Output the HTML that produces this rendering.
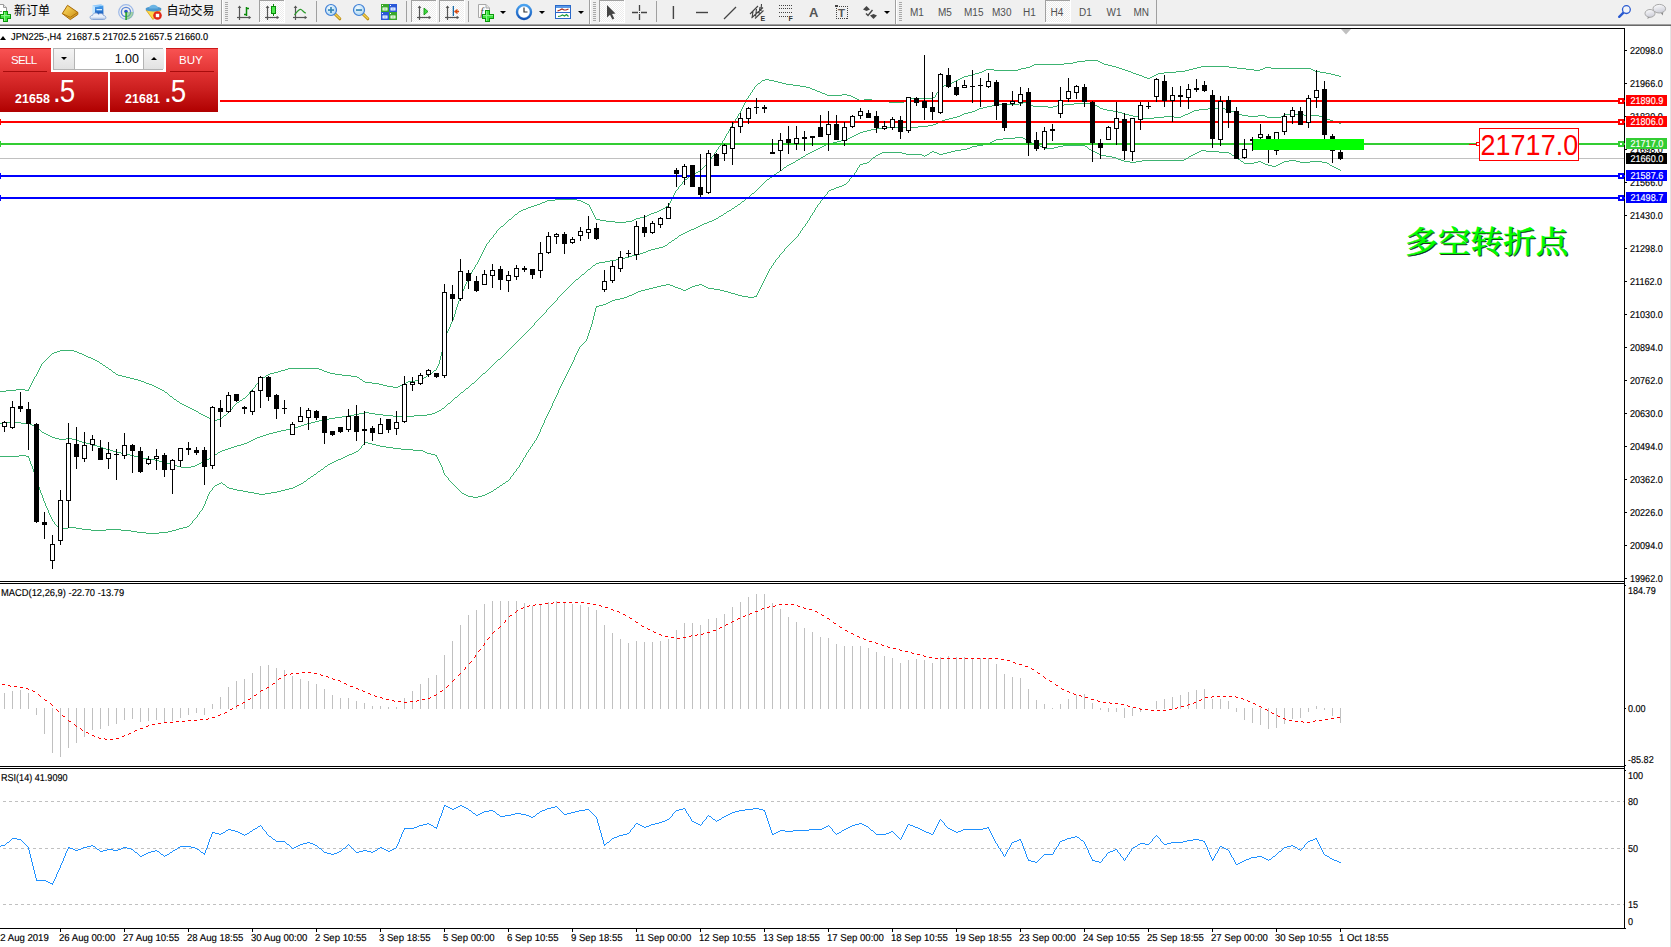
<!DOCTYPE html>
<html><head><meta charset="utf-8"><title>JPN225-,H4</title>
<style>
html,body{margin:0;padding:0;}
body{width:1671px;height:947px;overflow:hidden;background:#fff;position:relative;font-family:"Liberation Sans","Noto Sans CJK SC",sans-serif;}
#tb{position:absolute;left:0;top:0;width:1671px;height:24px;background:#f0f0f0;}
#tbl1{position:absolute;left:0;top:24px;width:1671px;height:1px;background:#a0a0a0;}
#tbl2{position:absolute;left:0;top:25px;width:1671px;height:1px;background:#696969;}
#oct{position:absolute;left:0;top:48px;width:218px;height:64px;}
#oct .pw{position:absolute;left:0;top:0;width:220px;height:64px;background:#fff;}
#oct .tab{position:absolute;top:0;height:24px;background:linear-gradient(#f85252,#e23434);border-top:1px solid #cc1818;box-sizing:border-box;}
#oct .tab span{position:absolute;top:4px;color:#fff;font-size:11.6px;line-height:14px;}
#oct .tab i{position:absolute;top:22px;width:44px;height:1px;background:#a80c0c;box-shadow:0 1px 0 #f06a6a;}
#oct .big{position:absolute;top:24px;height:40px;background:linear-gradient(#e03232,#cb1e1e 45%,#b00000);}
#oct .big b{position:absolute;top:20px;color:#fff;font-size:12.4px;line-height:14px;font-weight:700;letter-spacing:0.1px;}
#oct .big em{position:absolute;top:1px;color:#fff;font-size:31.5px;line-height:36px;font-style:normal;letter-spacing:-1.2px;transform:scaleX(0.88);transform-origin:0 0;}
#oct .spin{position:absolute;left:53px;top:0px;width:110px;height:22px;border:1px solid #b4b4b4;box-sizing:border-box;background:#fff;}
#oct .sb{position:absolute;top:0;height:20px;background:linear-gradient(#f4f4f4,#e2e2e2);border-right:1px solid #b4b4b4;box-sizing:border-box;}
#oct .sb:last-child{border-right:none;border-left:1px solid #b4b4b4;}
#oct .inp{position:absolute;left:21px;top:0;width:64px;height:19px;text-align:right;font-size:12.5px;line-height:21px;color:#000;}
#oct s.dn{position:absolute;left:7px;top:8px;width:0;height:0;border-left:3px solid transparent;border-right:3px solid transparent;border-top:3px solid #000;}
#oct s.up{position:absolute;left:7px;top:8px;width:0;height:0;border-left:3px solid transparent;border-right:3px solid transparent;border-bottom:3px solid #000;}

</style></head><body>
<svg id="chart" width="1671" height="947" viewBox="0 0 1671 947" style="position:absolute;left:0;top:0" shape-rendering="crispEdges">
<rect x="0" y="26" width="1671" height="921" fill="#fff"/>
<rect x="1670" y="26" width="1" height="921" fill="#e3e3e3"/>
<rect x="0" y="158" width="1624" height="1" fill="#c0c0c0"/>
<path d="M1085 60.5h13M1077 61.5h8M1098 61.5h2M1073 62.5h4M1100 62.5h2M1064 63.5h9M1102 63.5h2M1034 64.5h30M1104 64.5h4M1032 65.5h2M1108 65.5h4M1030 66.5h2M1112 66.5h4M1201 66.5h28M1026 67.5h4M1116 67.5h3M1197 67.5h4M1229 67.5h8M1265 67.5h6M1021 68.5h5M1119 68.5h3M1193 68.5h4M1237 68.5h9M1263 68.5h2M1271 68.5h40M986 69.5h8M1018 69.5h3M1122 69.5h3M1189 69.5h4M1246 69.5h8M1260 69.5h3M1311 69.5h2M984 70.5h2M994 70.5h24M1125 70.5h3M1185 70.5h4M1254 70.5h6M1313 70.5h2M982 71.5h2M1128 71.5h3M1176 71.5h9M1315 71.5h5M979 72.5h3M1131 72.5h2M1164 72.5h12M1320 72.5h6M975 73.5h4M1133 73.5h3M1158 73.5h6M1326 73.5h5M972 74.5h3M1136 74.5h3M1156 74.5h2M1331 74.5h4M968 75.5h4M1139 75.5h3M1154 75.5h2M1335 75.5h4M964 76.5h4M1142 76.5h2M1152 76.5h2M1339 76.5h2M962 77.5h2M1144 77.5h3M1150 77.5h2M960 78.5h2M1147 78.5h3M765 79.5h4M958 79.5h2M762 80.5h3M769 80.5h5M956 80.5h2M761 81.5h1M774 81.5h4M954 81.5h2M760 82.5h1M778 82.5h4M952 82.5h2M758 83.5h2M782 83.5h4M949 83.5h3M757 84.5h1M786 84.5h7M947 84.5h2M756 85.5h1M793 85.5h7M944 85.5h3M755 86.5h1M800 86.5h6M942 86.5h2M754 87.5h1M806 87.5h4M941 87.5h1M754 88.5h1M810 88.5h2M940 88.5h1M753 89.5h1M812 89.5h3M939 89.5h1M752 90.5h1M815 90.5h2M939 90.5h1M752 91.5h1M817 91.5h3M938 91.5h1M751 92.5h1M820 92.5h2M937 92.5h1M750 93.5h1M822 93.5h3M936 93.5h1M750 94.5h1M825 94.5h2M842 94.5h5M936 94.5h1M749 95.5h1M827 95.5h15M847 95.5h4M935 95.5h1M748 96.5h1M851 96.5h2M935 96.5h1M748 97.5h1M853 97.5h2M933 97.5h2M747 98.5h1M855 98.5h2M911 98.5h22M746 99.5h1M857 99.5h2M864 99.5h8M909 99.5h2M746 100.5h1M859 100.5h5M872 100.5h6M906 100.5h3M745 101.5h1M878 101.5h11M904 101.5h2M745 102.5h1M889 102.5h15M744 103.5h1M744 104.5h1M743 105.5h1M743 106.5h1M742 107.5h1M742 108.5h1M741 109.5h1M741 110.5h1M740 111.5h1M740 112.5h1M739 113.5h1M738 114.5h1M738 115.5h1M737 116.5h1M737 117.5h1M736 118.5h1M735 119.5h1M735 120.5h1M734 121.5h1M733 122.5h1M733 123.5h1M732 124.5h1M732 125.5h1M731 126.5h1M730 127.5h1M730 128.5h1M729 129.5h1M729 130.5h1M728 131.5h1M728 132.5h1M727 133.5h1M726 134.5h1M726 135.5h1M725 136.5h1M725 137.5h1M724 138.5h1M724 139.5h1M723 140.5h1M722 141.5h1M722 142.5h1M721 143.5h1M720 144.5h1M720 145.5h1M719 146.5h1M718 147.5h1M718 148.5h1M717 149.5h1M716 150.5h1M716 151.5h1M715 152.5h1M714 153.5h1M714 154.5h1M713 155.5h1M712 156.5h1M711 157.5h1M711 158.5h1M710 159.5h1M709 160.5h1M709 161.5h1M708 162.5h1M707 163.5h1M706 164.5h1M705 165.5h1M704 166.5h1M703 167.5h1M702 168.5h1M701 169.5h1M700 170.5h1M698 171.5h2M696 172.5h2M694 173.5h2M692 174.5h2M691 175.5h1M689 176.5h2M688 177.5h1M687 178.5h1M685 179.5h2M684 180.5h1M683 181.5h1M682 182.5h1M682 183.5h1M681 184.5h1M680 185.5h1M679 186.5h1M678 187.5h1M678 188.5h1M677 189.5h1M676 190.5h1M675 191.5h1M675 192.5h1M674 193.5h1M674 194.5h1M673 195.5h1M673 196.5h1M672 197.5h1M672 198.5h1M555 199.5h22M671 199.5h1M547 200.5h8M577 200.5h4M671 200.5h1M545 201.5h2M581 201.5h2M670 201.5h1M542 202.5h3M583 202.5h2M670 202.5h1M540 203.5h2M585 203.5h2M669 203.5h1M537 204.5h3M587 204.5h2M669 204.5h1M534 205.5h3M589 205.5h1M668 205.5h1M531 206.5h3M589 206.5h1M666 206.5h2M528 207.5h3M590 207.5h1M665 207.5h1M526 208.5h2M590 208.5h1M663 208.5h2M523 209.5h3M591 209.5h1M661 209.5h2M521 210.5h2M591 210.5h1M659 210.5h2M519 211.5h2M592 211.5h1M657 211.5h2M518 212.5h1M592 212.5h1M654 212.5h3M517 213.5h1M593 213.5h1M651 213.5h3M515 214.5h2M593 214.5h1M649 214.5h2M514 215.5h1M594 215.5h1M647 215.5h2M513 216.5h1M594 216.5h1M644 216.5h3M512 217.5h1M595 217.5h1M640 217.5h4M511 218.5h1M595 218.5h1M636 218.5h4M509 219.5h2M596 219.5h4M634 219.5h2M508 220.5h1M600 220.5h6M632 220.5h2M507 221.5h1M606 221.5h9M626 221.5h6M506 222.5h1M615 222.5h11M505 223.5h1M504 224.5h1M503 225.5h1M501 226.5h2M500 227.5h1M499 228.5h1M498 229.5h1M497 230.5h1M496 231.5h1M496 232.5h1M495 233.5h1M494 234.5h1M493 235.5h1M493 236.5h1M492 237.5h1M491 238.5h1M490 239.5h1M489 240.5h1M489 241.5h1M488 242.5h1M487 243.5h1M486 244.5h1M486 245.5h1M485 246.5h1M485 247.5h1M484 248.5h1M484 249.5h1M483 250.5h1M483 251.5h1M482 252.5h1M482 253.5h1M481 254.5h1M481 255.5h1M480 256.5h1M480 257.5h1M479 258.5h1M479 259.5h1M478 260.5h1M478 261.5h1M477 262.5h1M477 263.5h1M476 264.5h1M475 265.5h1M475 266.5h1M474 267.5h1M474 268.5h1M473 269.5h1M472 270.5h1M472 271.5h1M471 272.5h1M471 273.5h1M470 274.5h1M470 275.5h1M469 276.5h1M469 277.5h1M468 278.5h1M468 279.5h1M467 280.5h1M467 281.5h1M466 282.5h1M466 283.5h1M465 284.5h1M465 285.5h1M464 286.5h1M464 287.5h1M464 288.5h1M463 289.5h1M463 290.5h1M462 291.5h1M462 292.5h1M462 293.5h1M461 294.5h1M461 295.5h1M460 296.5h1M460 297.5h1M460 298.5h1M459 299.5h1M459 300.5h1M458 301.5h1M458 302.5h1M458 303.5h1M457 304.5h1M457 305.5h1M457 306.5h1M456 307.5h1M456 308.5h1M456 309.5h1M455 310.5h1M455 311.5h1M455 312.5h1M455 313.5h1M454 314.5h1M454 315.5h1M454 316.5h1M453 317.5h1M453 318.5h1M453 319.5h1M452 320.5h1M452 321.5h1M451 322.5h1M451 323.5h1M450 324.5h1M450 325.5h1M450 326.5h1M449 327.5h1M449 328.5h1M448 329.5h1M448 330.5h1M447 331.5h1M447 332.5h1M446 333.5h1M446 334.5h1M445 335.5h1M445 336.5h1M444 337.5h1M444 338.5h1M444 339.5h1M444 340.5h1M443 341.5h1M443 342.5h1M443 343.5h1M443 344.5h1M443 345.5h1M443 346.5h1M442 347.5h1M442 348.5h1M442 349.5h1M60 350.5h14M442 350.5h1M57 351.5h3M74 351.5h3M442 351.5h1M54 352.5h3M77 352.5h2M441 352.5h1M52 353.5h2M79 353.5h3M441 353.5h1M51 354.5h1M82 354.5h2M441 354.5h1M50 355.5h1M84 355.5h2M441 355.5h1M49 356.5h1M86 356.5h2M440 356.5h1M48 357.5h1M88 357.5h3M440 357.5h1M47 358.5h1M91 358.5h2M440 358.5h1M46 359.5h1M93 359.5h2M440 359.5h1M45 360.5h1M95 360.5h2M439 360.5h1M44 361.5h1M97 361.5h2M439 361.5h1M43 362.5h1M99 362.5h1M439 362.5h1M42 363.5h1M100 363.5h2M439 363.5h1M41 364.5h1M102 364.5h1M438 364.5h1M41 365.5h1M103 365.5h2M438 365.5h1M40 366.5h1M105 366.5h1M437 366.5h1M40 367.5h1M106 367.5h2M437 367.5h1M39 368.5h1M108 368.5h1M288 368.5h31M436 368.5h1M39 369.5h1M109 369.5h2M285 369.5h3M319 369.5h3M436 369.5h1M38 370.5h1M111 370.5h1M281 370.5h4M322 370.5h2M434 370.5h2M38 371.5h1M112 371.5h1M278 371.5h3M324 371.5h3M433 371.5h1M37 372.5h1M113 372.5h2M274 372.5h4M327 372.5h3M432 372.5h1M37 373.5h1M115 373.5h1M270 373.5h4M330 373.5h5M430 373.5h2M36 374.5h1M116 374.5h2M268 374.5h2M335 374.5h7M429 374.5h1M36 375.5h1M118 375.5h4M266 375.5h2M342 375.5h9M427 375.5h2M35 376.5h1M122 376.5h4M265 376.5h1M351 376.5h6M426 376.5h1M34 377.5h1M126 377.5h4M263 377.5h2M357 377.5h2M424 377.5h2M34 378.5h1M130 378.5h4M261 378.5h2M359 378.5h1M422 378.5h2M33 379.5h1M134 379.5h4M260 379.5h1M360 379.5h2M420 379.5h2M33 380.5h1M138 380.5h3M259 380.5h1M362 380.5h1M415 380.5h5M32 381.5h1M141 381.5h3M258 381.5h1M363 381.5h2M408 381.5h7M32 382.5h1M144 382.5h2M258 382.5h1M365 382.5h7M406 382.5h2M31 383.5h1M146 383.5h3M257 383.5h1M372 383.5h7M404 383.5h2M31 384.5h1M149 384.5h3M256 384.5h1M379 384.5h4M402 384.5h2M30 385.5h1M152 385.5h2M255 385.5h1M383 385.5h4M400 385.5h2M30 386.5h1M154 386.5h2M255 386.5h1M387 386.5h6M398 386.5h2M29 387.5h1M156 387.5h2M254 387.5h1M393 387.5h5M29 388.5h1M158 388.5h2M253 388.5h1M16 389.5h9M28 389.5h1M160 389.5h2M252 389.5h1M6 390.5h10M25 390.5h4M162 390.5h2M251 390.5h1M0 391.5h6M164 391.5h1M250 391.5h1M165 392.5h2M249 392.5h1M167 393.5h1M249 393.5h1M168 394.5h1M248 394.5h1M169 395.5h1M247 395.5h1M170 396.5h2M246 396.5h1M172 397.5h1M245 397.5h1M173 398.5h1M243 398.5h2M174 399.5h2M242 399.5h1M176 400.5h1M240 400.5h2M177 401.5h2M239 401.5h1M179 402.5h1M237 402.5h2M180 403.5h2M236 403.5h1M182 404.5h2M235 404.5h1M184 405.5h2M234 405.5h1M186 406.5h2M233 406.5h1M188 407.5h2M232 407.5h1M190 408.5h2M232 408.5h1M192 409.5h2M231 409.5h1M194 410.5h2M230 410.5h1M196 411.5h2M229 411.5h1M198 412.5h1M228 412.5h1M199 413.5h2M227 413.5h1M201 414.5h2M226 414.5h1M203 415.5h2M224 415.5h2M205 416.5h2M223 416.5h1M207 417.5h2M222 417.5h1M209 418.5h2M220 418.5h2M211 419.5h3M217 419.5h3M214 420.5h3" fill="none" stroke="#3cb371" stroke-width="1"/>
<path d="M1023 102.5h4M1019 103.5h4M1027 103.5h2M1074 103.5h16M998 104.5h21M1029 104.5h2M1064 104.5h10M1090 104.5h4M992 105.5h6M1031 105.5h2M1057 105.5h7M1094 105.5h3M987 106.5h5M1033 106.5h15M1053 106.5h4M1097 106.5h2M983 107.5h4M1048 107.5h5M1099 107.5h1M979 108.5h4M1100 108.5h3M1208 108.5h17M977 109.5h2M1103 109.5h4M1199 109.5h9M1225 109.5h3M975 110.5h2M1107 110.5h6M1194 110.5h5M1228 110.5h3M972 111.5h3M1113 111.5h5M1192 111.5h2M1231 111.5h3M968 112.5h4M1118 112.5h4M1190 112.5h2M1234 112.5h3M964 113.5h4M1122 113.5h3M1188 113.5h2M1237 113.5h2M962 114.5h2M1125 114.5h4M1185 114.5h3M1239 114.5h3M1285 114.5h19M960 115.5h2M1129 115.5h4M1183 115.5h2M1242 115.5h6M1258 115.5h7M1283 115.5h2M1304 115.5h15M957 116.5h3M1133 116.5h5M1164 116.5h10M1181 116.5h2M1248 116.5h10M1265 116.5h2M1281 116.5h2M1319 116.5h4M953 117.5h4M1138 117.5h4M1154 117.5h10M1174 117.5h7M1267 117.5h14M1323 117.5h2M949 118.5h4M1142 118.5h12M1325 118.5h2M945 119.5h4M1327 119.5h3M942 120.5h3M1330 120.5h3M940 121.5h2M1333 121.5h3M938 122.5h2M1336 122.5h3M936 123.5h2M1339 123.5h2M933 124.5h3M928 125.5h5M918 126.5h10M887 127.5h31M877 128.5h10M871 129.5h6M867 130.5h4M863 131.5h4M860 132.5h3M858 133.5h2M856 134.5h2M854 135.5h2M852 136.5h2M850 137.5h2M848 138.5h2M845 139.5h3M841 140.5h4M837 141.5h4M833 142.5h4M830 143.5h3M826 144.5h4M824 145.5h2M822 146.5h2M820 147.5h2M818 148.5h2M816 149.5h2M814 150.5h2M812 151.5h2M810 152.5h2M808 153.5h2M806 154.5h2M805 155.5h1M803 156.5h2M801 157.5h2M800 158.5h1M798 159.5h2M796 160.5h2M795 161.5h1M793 162.5h2M791 163.5h2M789 164.5h2M787 165.5h2M786 166.5h1M784 167.5h2M783 168.5h1M782 169.5h1M780 170.5h2M779 171.5h1M777 172.5h2M776 173.5h1M774 174.5h2M773 175.5h1M772 176.5h1M770 177.5h2M769 178.5h1M767 179.5h2M766 180.5h1M765 181.5h1M764 182.5h1M763 183.5h1M762 184.5h1M761 185.5h1M760 186.5h1M759 187.5h1M758 188.5h1M757 189.5h1M756 190.5h1M755 191.5h1M754 192.5h1M752 193.5h2M751 194.5h1M750 195.5h1M749 196.5h1M748 197.5h1M746 198.5h2M745 199.5h1M744 200.5h1M742 201.5h2M741 202.5h1M740 203.5h1M738 204.5h2M737 205.5h1M735 206.5h2M734 207.5h1M732 208.5h2M731 209.5h1M729 210.5h2M727 211.5h2M726 212.5h1M724 213.5h2M723 214.5h1M721 215.5h2M719 216.5h2M718 217.5h1M716 218.5h2M714 219.5h2M712 220.5h2M709 221.5h3M707 222.5h2M704 223.5h3M702 224.5h2M700 225.5h2M698 226.5h2M696 227.5h2M694 228.5h2M691 229.5h3M689 230.5h2M687 231.5h2M685 232.5h2M683 233.5h2M681 234.5h2M679 235.5h2M678 236.5h1M677 237.5h1M675 238.5h2M674 239.5h1M672 240.5h2M671 241.5h1M669 242.5h2M668 243.5h1M667 244.5h1M665 245.5h2M663 246.5h2M659 247.5h4M655 248.5h4M651 249.5h4M648 250.5h3M646 251.5h2M643 252.5h3M640 253.5h3M636 254.5h4M632 255.5h4M629 256.5h3M625 257.5h4M621 258.5h4M616 259.5h5M610 260.5h6M605 261.5h5M599 262.5h6M596 263.5h3M595 264.5h1M593 265.5h2M592 266.5h1M591 267.5h1M590 268.5h1M588 269.5h2M587 270.5h1M586 271.5h1M585 272.5h1M584 273.5h1M582 274.5h2M581 275.5h1M580 276.5h1M579 277.5h1M578 278.5h1M576 279.5h2M575 280.5h1M574 281.5h1M573 282.5h1M572 283.5h1M571 284.5h1M570 285.5h1M569 286.5h1M568 287.5h1M567 288.5h1M566 289.5h1M565 290.5h1M564 291.5h1M563 292.5h1M562 293.5h1M561 294.5h1M560 295.5h1M559 296.5h1M558 297.5h1M557 298.5h1M557 299.5h1M556 300.5h1M555 301.5h1M554 302.5h1M553 303.5h1M552 304.5h1M551 305.5h1M550 306.5h1M549 307.5h1M548 308.5h1M547 309.5h1M546 310.5h1M546 311.5h1M545 312.5h1M544 313.5h1M543 314.5h1M542 315.5h1M541 316.5h1M540 317.5h1M539 318.5h1M538 319.5h1M537 320.5h1M536 321.5h1M535 322.5h1M534 323.5h1M534 324.5h1M533 325.5h1M532 326.5h1M531 327.5h1M530 328.5h1M529 329.5h1M528 330.5h1M527 331.5h1M526 332.5h1M525 333.5h1M524 334.5h1M523 335.5h1M522 336.5h1M521 337.5h1M520 338.5h1M519 339.5h1M518 340.5h1M517 341.5h1M516 342.5h1M515 343.5h1M514 344.5h1M513 345.5h1M512 346.5h1M511 347.5h1M510 348.5h1M509 349.5h1M508 350.5h1M507 351.5h1M506 352.5h1M505 353.5h1M504 354.5h1M503 355.5h1M502 356.5h1M501 357.5h1M500 358.5h1M498 359.5h2M497 360.5h1M496 361.5h1M495 362.5h1M494 363.5h1M493 364.5h1M492 365.5h1M491 366.5h1M490 367.5h1M489 368.5h1M488 369.5h1M487 370.5h1M486 371.5h1M485 372.5h1M483 373.5h2M482 374.5h1M481 375.5h1M480 376.5h1M479 377.5h1M478 378.5h1M477 379.5h1M476 380.5h1M475 381.5h1M474 382.5h1M472 383.5h2M471 384.5h1M470 385.5h1M469 386.5h1M468 387.5h1M466 388.5h2M465 389.5h1M464 390.5h1M463 391.5h1M461 392.5h2M460 393.5h1M459 394.5h1M458 395.5h1M457 396.5h1M455 397.5h2M454 398.5h1M453 399.5h1M452 400.5h1M451 401.5h1M450 402.5h1M448 403.5h2M447 404.5h1M446 405.5h1M445 406.5h1M444 407.5h1M442 408.5h2M441 409.5h1M439 410.5h2M437 411.5h2M364 412.5h5M435 412.5h2M359 413.5h5M369 413.5h6M432 413.5h3M354 414.5h5M375 414.5h8M427 414.5h5M348 415.5h6M383 415.5h10M414 415.5h13M342 416.5h6M393 416.5h21M335 417.5h7M329 418.5h6M323 419.5h6M319 420.5h4M315 421.5h4M7 422.5h14M311 422.5h4M0 423.5h7M21 423.5h9M307 423.5h4M30 424.5h2M304 424.5h3M32 425.5h2M301 425.5h3M34 426.5h2M298 426.5h3M36 427.5h1M294 427.5h4M37 428.5h1M290 428.5h4M38 429.5h2M286 429.5h4M40 430.5h1M281 430.5h5M41 431.5h1M277 431.5h4M42 432.5h2M273 432.5h4M44 433.5h2M269 433.5h4M46 434.5h2M266 434.5h3M48 435.5h2M263 435.5h3M50 436.5h2M260 436.5h3M52 437.5h3M257 437.5h3M55 438.5h4M66 438.5h6M255 438.5h2M59 439.5h7M72 439.5h4M253 439.5h2M76 440.5h3M251 440.5h2M79 441.5h3M249 441.5h2M82 442.5h4M247 442.5h2M86 443.5h4M244 443.5h3M90 444.5h3M241 444.5h3M93 445.5h4M237 445.5h4M97 446.5h3M234 446.5h3M100 447.5h3M231 447.5h3M103 448.5h3M228 448.5h3M106 449.5h4M225 449.5h3M110 450.5h3M222 450.5h3M113 451.5h4M220 451.5h2M117 452.5h4M218 452.5h2M121 453.5h4M217 453.5h1M125 454.5h5M215 454.5h2M130 455.5h4M213 455.5h2M134 456.5h4M212 456.5h1M138 457.5h5M210 457.5h2M143 458.5h6M209 458.5h1M149 459.5h6M207 459.5h2M155 460.5h4M205 460.5h2M159 461.5h4M203 461.5h2M163 462.5h4M201 462.5h2M167 463.5h4M199 463.5h2M171 464.5h3M197 464.5h2M174 465.5h3M195 465.5h2M177 466.5h4M191 466.5h4M181 467.5h10" fill="none" stroke="#3cb371" stroke-width="1"/>
<path d="M1015 137.5h8M1003 138.5h12M1023 138.5h2M996 139.5h7M1025 139.5h2M994 140.5h2M1027 140.5h2M992 141.5h2M1029 141.5h2M990 142.5h2M1031 142.5h1M987 143.5h3M1032 143.5h2M983 144.5h4M1034 144.5h2M977 145.5h6M1036 145.5h4M1063 145.5h22M972 146.5h5M1040 146.5h3M1058 146.5h5M1085 146.5h2M970 147.5h2M1043 147.5h2M1054 147.5h4M1087 147.5h1M967 148.5h3M1045 148.5h9M1088 148.5h1M961 149.5h6M1089 149.5h2M955 150.5h6M1091 150.5h2M1201 150.5h5M932 151.5h2M951 151.5h4M1093 151.5h2M1199 151.5h2M1206 151.5h13M882 152.5h20M930 152.5h2M934 152.5h3M947 152.5h4M1095 152.5h2M1197 152.5h2M1219 152.5h10M880 153.5h2M902 153.5h4M929 153.5h1M937 153.5h2M943 153.5h4M1097 153.5h2M1195 153.5h2M1229 153.5h2M878 154.5h2M906 154.5h16M927 154.5h2M939 154.5h4M1099 154.5h2M1193 154.5h2M1231 154.5h1M876 155.5h2M922 155.5h2M925 155.5h2M1101 155.5h5M1191 155.5h2M1232 155.5h2M875 156.5h1M924 156.5h1M1106 156.5h6M1189 156.5h2M1234 156.5h1M873 157.5h2M1112 157.5h4M1188 157.5h1M1235 157.5h2M872 158.5h1M1116 158.5h2M1186 158.5h2M1237 158.5h1M871 159.5h1M1118 159.5h3M1184 159.5h2M1238 159.5h2M870 160.5h1M1121 160.5h3M1142 160.5h42M1240 160.5h1M1289 160.5h7M869 161.5h1M1124 161.5h6M1136 161.5h6M1241 161.5h2M1258 161.5h3M1284 161.5h5M1296 161.5h4M1310 161.5h12M867 162.5h2M1130 162.5h6M1243 162.5h1M1254 162.5h4M1261 162.5h2M1282 162.5h2M1300 162.5h10M1322 162.5h5M863 163.5h4M1244 163.5h10M1263 163.5h2M1280 163.5h2M1327 163.5h2M860 164.5h3M1265 164.5h3M1278 164.5h2M1329 164.5h1M859 165.5h1M1268 165.5h4M1276 165.5h2M1330 165.5h2M859 166.5h1M1272 166.5h4M1332 166.5h2M858 167.5h1M1334 167.5h2M857 168.5h1M1336 168.5h2M857 169.5h1M1338 169.5h2M856 170.5h1M1340 170.5h1M856 171.5h1M855 172.5h1M854 173.5h1M854 174.5h1M853 175.5h1M852 176.5h1M851 177.5h1M850 178.5h1M849 179.5h1M849 180.5h1M848 181.5h1M847 182.5h1M846 183.5h1M844 184.5h2M842 185.5h2M839 186.5h3M836 187.5h3M834 188.5h2M831 189.5h3M829 190.5h2M828 191.5h1M827 192.5h1M827 193.5h1M826 194.5h1M825 195.5h1M824 196.5h1M823 197.5h1M823 198.5h1M822 199.5h1M821 200.5h1M820 201.5h1M820 202.5h1M819 203.5h1M818 204.5h1M817 205.5h1M817 206.5h1M816 207.5h1M815 208.5h1M815 209.5h1M814 210.5h1M814 211.5h1M813 212.5h1M812 213.5h1M812 214.5h1M811 215.5h1M810 216.5h1M810 217.5h1M809 218.5h1M809 219.5h1M808 220.5h1M807 221.5h1M807 222.5h1M806 223.5h1M805 224.5h1M805 225.5h1M804 226.5h1M803 227.5h1M802 228.5h1M802 229.5h1M801 230.5h1M800 231.5h1M800 232.5h1M799 233.5h1M798 234.5h1M798 235.5h1M797 236.5h1M796 237.5h1M795 238.5h1M794 239.5h1M793 240.5h1M792 241.5h1M791 242.5h1M790 243.5h1M789 244.5h1M788 245.5h1M787 246.5h1M786 247.5h1M785 248.5h1M784 249.5h1M784 250.5h1M783 251.5h1M782 252.5h1M781 253.5h1M780 254.5h1M779 255.5h1M779 256.5h1M778 257.5h1M777 258.5h1M776 259.5h1M775 260.5h1M775 261.5h1M774 262.5h1M773 263.5h1M773 264.5h1M772 265.5h1M771 266.5h1M771 267.5h1M770 268.5h1M769 269.5h1M769 270.5h1M768 271.5h1M768 272.5h1M767 273.5h1M767 274.5h1M766 275.5h1M766 276.5h1M765 277.5h1M765 278.5h1M764 279.5h1M764 280.5h1M763 281.5h1M763 282.5h1M762 283.5h1M666 284.5h4M699 284.5h3M762 284.5h1M661 285.5h5M670 285.5h3M695 285.5h4M702 285.5h2M761 285.5h1M657 286.5h4M673 286.5h2M692 286.5h3M704 286.5h2M761 286.5h1M653 287.5h4M675 287.5h3M690 287.5h2M706 287.5h2M760 287.5h1M649 288.5h4M678 288.5h3M688 288.5h2M708 288.5h6M760 288.5h1M645 289.5h4M681 289.5h2M686 289.5h2M714 289.5h6M759 289.5h1M641 290.5h4M683 290.5h3M720 290.5h4M759 290.5h1M638 291.5h3M724 291.5h4M758 291.5h1M636 292.5h2M728 292.5h3M758 292.5h1M634 293.5h2M731 293.5h4M757 293.5h1M632 294.5h2M735 294.5h3M757 294.5h1M629 295.5h3M738 295.5h4M756 295.5h1M627 296.5h2M742 296.5h6M754 296.5h3M624 297.5h3M748 297.5h6M620 298.5h4M615 299.5h5M612 300.5h3M610 301.5h2M608 302.5h2M606 303.5h2M603 304.5h3M599 305.5h4M596 306.5h3M596 307.5h1M595 308.5h1M595 309.5h1M595 310.5h1M595 311.5h1M594 312.5h1M594 313.5h1M594 314.5h1M594 315.5h1M593 316.5h1M593 317.5h1M593 318.5h1M593 319.5h1M592 320.5h1M592 321.5h1M592 322.5h1M592 323.5h1M591 324.5h1M591 325.5h1M591 326.5h1M590 327.5h1M590 328.5h1M590 329.5h1M589 330.5h1M589 331.5h1M589 332.5h1M588 333.5h1M588 334.5h1M588 335.5h1M587 336.5h1M587 337.5h1M587 338.5h1M586 339.5h1M586 340.5h1M585 341.5h1M584 342.5h1M583 343.5h1M582 344.5h1M581 345.5h1M580 346.5h1M579 347.5h1M579 348.5h1M578 349.5h1M578 350.5h1M577 351.5h1M577 352.5h1M576 353.5h1M576 354.5h1M575 355.5h1M575 356.5h1M574 357.5h1M574 358.5h1M574 359.5h1M573 360.5h1M573 361.5h1M572 362.5h1M572 363.5h1M571 364.5h1M571 365.5h1M570 366.5h1M570 367.5h1M569 368.5h1M569 369.5h1M568 370.5h1M568 371.5h1M567 372.5h1M567 373.5h1M566 374.5h1M566 375.5h1M565 376.5h1M565 377.5h1M564 378.5h1M564 379.5h1M563 380.5h1M563 381.5h1M562 382.5h1M562 383.5h1M561 384.5h1M561 385.5h1M560 386.5h1M560 387.5h1M559 388.5h1M559 389.5h1M558 390.5h1M558 391.5h1M558 392.5h1M557 393.5h1M557 394.5h1M556 395.5h1M556 396.5h1M555 397.5h1M555 398.5h1M554 399.5h1M554 400.5h1M553 401.5h1M553 402.5h1M552 403.5h1M552 404.5h1M552 405.5h1M551 406.5h1M551 407.5h1M550 408.5h1M550 409.5h1M549 410.5h1M549 411.5h1M548 412.5h1M548 413.5h1M547 414.5h1M547 415.5h1M546 416.5h1M546 417.5h1M545 418.5h1M545 419.5h1M544 420.5h1M544 421.5h1M544 422.5h1M543 423.5h1M543 424.5h1M542 425.5h1M542 426.5h1M541 427.5h1M541 428.5h1M540 429.5h1M540 430.5h1M540 431.5h1M539 432.5h1M539 433.5h1M538 434.5h1M538 435.5h1M537 436.5h1M537 437.5h1M536 438.5h1M536 439.5h1M535 440.5h1M534 441.5h1M365 442.5h3M534 442.5h1M364 443.5h1M368 443.5h4M533 443.5h1M363 444.5h1M372 444.5h4M532 444.5h1M362 445.5h1M376 445.5h4M532 445.5h1M361 446.5h1M380 446.5h6M531 446.5h1M361 447.5h1M386 447.5h7M530 447.5h1M360 448.5h1M393 448.5h8M530 448.5h1M359 449.5h1M401 449.5h12M529 449.5h1M358 450.5h1M413 450.5h10M528 450.5h1M356 451.5h2M423 451.5h2M528 451.5h1M354 452.5h2M425 452.5h2M527 452.5h1M352 453.5h2M427 453.5h4M526 453.5h1M349 454.5h3M431 454.5h4M526 454.5h1M19 455.5h7M347 455.5h2M435 455.5h2M525 455.5h1M0 456.5h19M26 456.5h3M345 456.5h2M436 456.5h1M525 456.5h1M28 457.5h1M343 457.5h2M437 457.5h1M524 457.5h1M29 458.5h1M341 458.5h2M437 458.5h1M523 458.5h1M29 459.5h1M338 459.5h3M438 459.5h1M523 459.5h1M29 460.5h1M336 460.5h2M438 460.5h1M522 460.5h1M30 461.5h1M334 461.5h2M439 461.5h1M522 461.5h1M30 462.5h1M332 462.5h2M439 462.5h1M521 462.5h1M30 463.5h1M330 463.5h2M440 463.5h1M520 463.5h1M31 464.5h1M328 464.5h2M440 464.5h1M520 464.5h1M31 465.5h1M327 465.5h1M441 465.5h1M519 465.5h1M32 466.5h1M325 466.5h2M441 466.5h1M519 466.5h1M32 467.5h1M324 467.5h1M442 467.5h1M518 467.5h1M32 468.5h1M323 468.5h1M442 468.5h1M517 468.5h1M33 469.5h1M321 469.5h2M442 469.5h1M516 469.5h1M33 470.5h1M320 470.5h1M443 470.5h1M516 470.5h1M33 471.5h1M318 471.5h2M443 471.5h1M515 471.5h1M34 472.5h1M317 472.5h1M443 472.5h1M514 472.5h1M34 473.5h1M316 473.5h1M444 473.5h1M513 473.5h1M34 474.5h1M314 474.5h2M444 474.5h1M513 474.5h1M35 475.5h1M313 475.5h1M445 475.5h1M512 475.5h1M35 476.5h1M311 476.5h2M446 476.5h1M511 476.5h1M35 477.5h1M310 477.5h1M447 477.5h1M510 477.5h1M36 478.5h1M308 478.5h2M448 478.5h1M510 478.5h1M36 479.5h1M307 479.5h1M448 479.5h1M509 479.5h1M36 480.5h1M306 480.5h1M449 480.5h1M508 480.5h1M37 481.5h1M304 481.5h2M450 481.5h1M506 481.5h2M37 482.5h1M221 482.5h1M303 482.5h1M451 482.5h1M505 482.5h1M37 483.5h1M219 483.5h2M222 483.5h1M301 483.5h2M452 483.5h1M503 483.5h2M38 484.5h1M217 484.5h2M223 484.5h2M299 484.5h2M453 484.5h1M502 484.5h1M38 485.5h1M215 485.5h2M225 485.5h1M297 485.5h2M454 485.5h1M500 485.5h2M38 486.5h1M214 486.5h1M226 486.5h1M295 486.5h2M455 486.5h1M499 486.5h1M39 487.5h1M213 487.5h1M227 487.5h2M293 487.5h2M456 487.5h1M497 487.5h2M39 488.5h1M212 488.5h1M229 488.5h4M289 488.5h4M457 488.5h1M496 488.5h1M39 489.5h1M212 489.5h1M233 489.5h4M285 489.5h4M458 489.5h1M494 489.5h2M40 490.5h1M211 490.5h1M237 490.5h6M281 490.5h4M459 490.5h1M493 490.5h1M40 491.5h1M210 491.5h1M243 491.5h5M277 491.5h4M460 491.5h1M491 491.5h2M40 492.5h1M209 492.5h1M248 492.5h6M271 492.5h6M461 492.5h1M489 492.5h2M41 493.5h1M209 493.5h1M254 493.5h5M265 493.5h6M462 493.5h2M487 493.5h2M41 494.5h1M208 494.5h1M259 494.5h6M464 494.5h2M485 494.5h2M42 495.5h1M208 495.5h1M466 495.5h2M482 495.5h3M42 496.5h1M207 496.5h1M468 496.5h5M478 496.5h4M42 497.5h1M207 497.5h1M473 497.5h5M43 498.5h1M207 498.5h1M43 499.5h1M206 499.5h1M43 500.5h1M206 500.5h1M44 501.5h1M205 501.5h1M44 502.5h1M205 502.5h1M45 503.5h1M205 503.5h1M45 504.5h1M204 504.5h1M45 505.5h1M204 505.5h1M46 506.5h1M203 506.5h1M46 507.5h1M203 507.5h1M47 508.5h1M202 508.5h1M47 509.5h1M202 509.5h1M48 510.5h1M201 510.5h1M48 511.5h1M200 511.5h1M48 512.5h1M199 512.5h1M49 513.5h1M199 513.5h1M49 514.5h1M198 514.5h1M50 515.5h1M197 515.5h1M50 516.5h1M197 516.5h1M51 517.5h1M196 517.5h1M51 518.5h1M195 518.5h1M52 519.5h1M194 519.5h1M52 520.5h1M193 520.5h1M53 521.5h1M192 521.5h1M54 522.5h1M192 522.5h1M54 523.5h1M191 523.5h1M55 524.5h1M190 524.5h1M56 525.5h1M189 525.5h1M57 526.5h2M187 526.5h2M59 527.5h3M68 527.5h8M183 527.5h4M62 528.5h6M76 528.5h6M179 528.5h4M82 529.5h9M106 529.5h15M176 529.5h3M91 530.5h15M121 530.5h10M172 530.5h4M131 531.5h6M168 531.5h4M137 532.5h9M159 532.5h9M146 533.5h13" fill="none" stroke="#3cb371" stroke-width="1"/>
<rect x="0" y="100" width="1619" height="2" fill="#ff0000"/>
<rect x="0" y="98" width="1" height="6" fill="#ff0000"/>
<rect x="1619" y="99" width="4" height="4" fill="#fff" stroke="#ff0000" stroke-width="2"/>
<rect x="0" y="121" width="1619" height="2" fill="#ff0000"/>
<rect x="0" y="119" width="1" height="6" fill="#ff0000"/>
<rect x="1619" y="120" width="4" height="4" fill="#fff" stroke="#ff0000" stroke-width="2"/>
<rect x="0" y="143" width="1619" height="2" fill="#32cd32"/>
<rect x="0" y="141" width="1" height="6" fill="#32cd32"/>
<rect x="1619" y="142" width="4" height="4" fill="#fff" stroke="#32cd32" stroke-width="2"/>
<rect x="0" y="175" width="1619" height="2" fill="#0000ff"/>
<rect x="0" y="173" width="1" height="6" fill="#0000ff"/>
<rect x="1619" y="174" width="4" height="4" fill="#fff" stroke="#0000ff" stroke-width="2"/>
<rect x="0" y="197" width="1619" height="2" fill="#0000ff"/>
<rect x="0" y="195" width="1" height="6" fill="#0000ff"/>
<rect x="1619" y="196" width="4" height="4" fill="#fff" stroke="#0000ff" stroke-width="2"/>
<rect x="4" y="421" width="1" height="11" fill="#000"/>
<rect x="2" y="422" width="5" height="5" fill="#000"/>
<rect x="3" y="423" width="3" height="3" fill="#fff"/>
<rect x="12" y="401" width="1" height="28" fill="#000"/>
<rect x="10" y="407" width="5" height="21" fill="#000"/>
<rect x="11" y="408" width="3" height="19" fill="#fff"/>
<rect x="20" y="392" width="1" height="20" fill="#000"/>
<rect x="18" y="406" width="5" height="3" fill="#000"/>
<rect x="28" y="402" width="1" height="48" fill="#000"/>
<rect x="26" y="409" width="5" height="15" fill="#000"/>
<rect x="36" y="423" width="1" height="100" fill="#000"/>
<rect x="34" y="424" width="5" height="98" fill="#000"/>
<rect x="44" y="512" width="1" height="27" fill="#000"/>
<rect x="42" y="522" width="5" height="3" fill="#000"/>
<rect x="52" y="535" width="1" height="34" fill="#000"/>
<rect x="50" y="544" width="5" height="17" fill="#000"/>
<rect x="51" y="545" width="3" height="15" fill="#fff"/>
<rect x="60" y="490" width="1" height="55" fill="#000"/>
<rect x="58" y="500" width="5" height="41" fill="#000"/>
<rect x="59" y="501" width="3" height="39" fill="#fff"/>
<rect x="68" y="423" width="1" height="105" fill="#000"/>
<rect x="66" y="443" width="5" height="58" fill="#000"/>
<rect x="67" y="444" width="3" height="56" fill="#fff"/>
<rect x="76" y="427" width="1" height="42" fill="#000"/>
<rect x="74" y="444" width="5" height="13" fill="#000"/>
<rect x="84" y="432" width="1" height="30" fill="#000"/>
<rect x="82" y="445" width="5" height="14" fill="#000"/>
<rect x="83" y="446" width="3" height="12" fill="#fff"/>
<rect x="92" y="435" width="1" height="16" fill="#000"/>
<rect x="90" y="439" width="5" height="6" fill="#000"/>
<rect x="91" y="440" width="3" height="4" fill="#fff"/>
<rect x="100" y="440" width="1" height="20" fill="#000"/>
<rect x="98" y="448" width="5" height="12" fill="#000"/>
<rect x="108" y="442" width="1" height="27" fill="#000"/>
<rect x="106" y="453" width="5" height="6" fill="#000"/>
<rect x="107" y="454" width="3" height="4" fill="#fff"/>
<rect x="116" y="449" width="1" height="31" fill="#000"/>
<rect x="114" y="454" width="5" height="1" fill="#000"/>
<rect x="124" y="433" width="1" height="26" fill="#000"/>
<rect x="122" y="445" width="5" height="11" fill="#000"/>
<rect x="123" y="446" width="3" height="9" fill="#fff"/>
<rect x="132" y="444" width="1" height="29" fill="#000"/>
<rect x="130" y="445" width="5" height="6" fill="#000"/>
<rect x="140" y="447" width="1" height="26" fill="#000"/>
<rect x="138" y="451" width="5" height="21" fill="#000"/>
<rect x="148" y="456" width="1" height="9" fill="#000"/>
<rect x="146" y="459" width="5" height="5" fill="#000"/>
<rect x="147" y="460" width="3" height="3" fill="#fff"/>
<rect x="156" y="449" width="1" height="21" fill="#000"/>
<rect x="154" y="456" width="5" height="3" fill="#000"/>
<rect x="155" y="457" width="3" height="1" fill="#fff"/>
<rect x="164" y="453" width="1" height="24" fill="#000"/>
<rect x="162" y="455" width="5" height="15" fill="#000"/>
<rect x="172" y="459" width="1" height="35" fill="#000"/>
<rect x="170" y="460" width="5" height="10" fill="#000"/>
<rect x="171" y="461" width="3" height="8" fill="#fff"/>
<rect x="180" y="448" width="1" height="19" fill="#000"/>
<rect x="178" y="448" width="5" height="13" fill="#000"/>
<rect x="179" y="449" width="3" height="11" fill="#fff"/>
<rect x="188" y="442" width="1" height="13" fill="#000"/>
<rect x="186" y="448" width="5" height="2" fill="#000"/>
<rect x="196" y="447" width="1" height="8" fill="#000"/>
<rect x="194" y="450" width="5" height="3" fill="#000"/>
<rect x="204" y="447" width="1" height="38" fill="#000"/>
<rect x="202" y="450" width="5" height="17" fill="#000"/>
<rect x="212" y="406" width="1" height="63" fill="#000"/>
<rect x="210" y="407" width="5" height="59" fill="#000"/>
<rect x="211" y="408" width="3" height="57" fill="#fff"/>
<rect x="220" y="400" width="1" height="27" fill="#000"/>
<rect x="218" y="408" width="5" height="4" fill="#000"/>
<rect x="228" y="392" width="1" height="21" fill="#000"/>
<rect x="226" y="395" width="5" height="17" fill="#000"/>
<rect x="227" y="396" width="3" height="15" fill="#fff"/>
<rect x="236" y="394" width="1" height="8" fill="#000"/>
<rect x="234" y="394" width="5" height="7" fill="#000"/>
<rect x="244" y="406" width="1" height="8" fill="#000"/>
<rect x="242" y="407" width="5" height="2" fill="#000"/>
<rect x="252" y="390" width="1" height="25" fill="#000"/>
<rect x="250" y="391" width="5" height="21" fill="#000"/>
<rect x="251" y="392" width="3" height="19" fill="#fff"/>
<rect x="260" y="376" width="1" height="32" fill="#000"/>
<rect x="258" y="377" width="5" height="14" fill="#000"/>
<rect x="259" y="378" width="3" height="12" fill="#fff"/>
<rect x="268" y="376" width="1" height="25" fill="#000"/>
<rect x="266" y="377" width="5" height="20" fill="#000"/>
<rect x="276" y="394" width="1" height="25" fill="#000"/>
<rect x="274" y="395" width="5" height="14" fill="#000"/>
<rect x="284" y="400" width="1" height="14" fill="#000"/>
<rect x="282" y="408" width="5" height="1" fill="#000"/>
<rect x="292" y="422" width="1" height="13" fill="#000"/>
<rect x="290" y="424" width="5" height="11" fill="#000"/>
<rect x="291" y="425" width="3" height="9" fill="#fff"/>
<rect x="300" y="407" width="1" height="15" fill="#000"/>
<rect x="298" y="416" width="5" height="6" fill="#000"/>
<rect x="299" y="417" width="3" height="4" fill="#fff"/>
<rect x="308" y="408" width="1" height="22" fill="#000"/>
<rect x="306" y="410" width="5" height="8" fill="#000"/>
<rect x="307" y="411" width="3" height="6" fill="#fff"/>
<rect x="316" y="410" width="1" height="10" fill="#000"/>
<rect x="314" y="411" width="5" height="7" fill="#000"/>
<rect x="324" y="416" width="1" height="28" fill="#000"/>
<rect x="322" y="416" width="5" height="17" fill="#000"/>
<rect x="332" y="431" width="1" height="5" fill="#000"/>
<rect x="330" y="431" width="5" height="4" fill="#000"/>
<rect x="340" y="427" width="1" height="6" fill="#000"/>
<rect x="338" y="427" width="5" height="5" fill="#000"/>
<rect x="348" y="409" width="1" height="23" fill="#000"/>
<rect x="346" y="416" width="5" height="14" fill="#000"/>
<rect x="347" y="417" width="3" height="12" fill="#fff"/>
<rect x="356" y="405" width="1" height="36" fill="#000"/>
<rect x="354" y="416" width="5" height="16" fill="#000"/>
<rect x="364" y="411" width="1" height="34" fill="#000"/>
<rect x="362" y="429" width="5" height="2" fill="#000"/>
<rect x="372" y="426" width="1" height="15" fill="#000"/>
<rect x="370" y="428" width="5" height="5" fill="#000"/>
<rect x="380" y="418" width="1" height="16" fill="#000"/>
<rect x="378" y="424" width="5" height="10" fill="#000"/>
<rect x="379" y="425" width="3" height="8" fill="#fff"/>
<rect x="388" y="419" width="1" height="14" fill="#000"/>
<rect x="386" y="419" width="5" height="11" fill="#000"/>
<rect x="396" y="411" width="1" height="24" fill="#000"/>
<rect x="394" y="422" width="5" height="7" fill="#000"/>
<rect x="395" y="423" width="3" height="5" fill="#fff"/>
<rect x="404" y="376" width="1" height="47" fill="#000"/>
<rect x="402" y="384" width="5" height="38" fill="#000"/>
<rect x="403" y="385" width="3" height="36" fill="#fff"/>
<rect x="412" y="377" width="1" height="14" fill="#000"/>
<rect x="410" y="382" width="5" height="3" fill="#000"/>
<rect x="411" y="383" width="3" height="1" fill="#fff"/>
<rect x="420" y="373" width="1" height="12" fill="#000"/>
<rect x="418" y="375" width="5" height="9" fill="#000"/>
<rect x="419" y="376" width="3" height="7" fill="#fff"/>
<rect x="428" y="369" width="1" height="8" fill="#000"/>
<rect x="426" y="370" width="5" height="5" fill="#000"/>
<rect x="427" y="371" width="3" height="3" fill="#fff"/>
<rect x="436" y="373" width="1" height="5" fill="#000"/>
<rect x="434" y="373" width="5" height="4" fill="#000"/>
<rect x="444" y="284" width="1" height="94" fill="#000"/>
<rect x="442" y="292" width="5" height="84" fill="#000"/>
<rect x="443" y="293" width="3" height="82" fill="#fff"/>
<rect x="452" y="285" width="1" height="36" fill="#000"/>
<rect x="450" y="294" width="5" height="5" fill="#000"/>
<rect x="460" y="259" width="1" height="42" fill="#000"/>
<rect x="458" y="271" width="5" height="28" fill="#000"/>
<rect x="459" y="272" width="3" height="26" fill="#fff"/>
<rect x="468" y="270" width="1" height="19" fill="#000"/>
<rect x="466" y="273" width="5" height="8" fill="#000"/>
<rect x="476" y="276" width="1" height="16" fill="#000"/>
<rect x="474" y="281" width="5" height="10" fill="#000"/>
<rect x="484" y="270" width="1" height="15" fill="#000"/>
<rect x="482" y="274" width="5" height="11" fill="#000"/>
<rect x="483" y="275" width="3" height="9" fill="#fff"/>
<rect x="492" y="264" width="1" height="24" fill="#000"/>
<rect x="490" y="270" width="5" height="6" fill="#000"/>
<rect x="491" y="271" width="3" height="4" fill="#fff"/>
<rect x="500" y="266" width="1" height="24" fill="#000"/>
<rect x="498" y="269" width="5" height="11" fill="#000"/>
<rect x="508" y="271" width="1" height="21" fill="#000"/>
<rect x="506" y="275" width="5" height="6" fill="#000"/>
<rect x="507" y="276" width="3" height="4" fill="#fff"/>
<rect x="516" y="265" width="1" height="15" fill="#000"/>
<rect x="514" y="268" width="5" height="9" fill="#000"/>
<rect x="515" y="269" width="3" height="7" fill="#fff"/>
<rect x="524" y="266" width="1" height="6" fill="#000"/>
<rect x="522" y="268" width="5" height="2" fill="#000"/>
<rect x="532" y="269" width="1" height="10" fill="#000"/>
<rect x="530" y="269" width="5" height="6" fill="#000"/>
<rect x="540" y="242" width="1" height="36" fill="#000"/>
<rect x="538" y="253" width="5" height="18" fill="#000"/>
<rect x="539" y="254" width="3" height="16" fill="#fff"/>
<rect x="548" y="232" width="1" height="22" fill="#000"/>
<rect x="546" y="236" width="5" height="17" fill="#000"/>
<rect x="547" y="237" width="3" height="15" fill="#fff"/>
<rect x="556" y="233" width="1" height="11" fill="#000"/>
<rect x="554" y="234" width="5" height="3" fill="#000"/>
<rect x="555" y="235" width="3" height="1" fill="#fff"/>
<rect x="564" y="232" width="1" height="22" fill="#000"/>
<rect x="562" y="234" width="5" height="10" fill="#000"/>
<rect x="572" y="237" width="1" height="7" fill="#000"/>
<rect x="570" y="239" width="5" height="4" fill="#000"/>
<rect x="571" y="240" width="3" height="2" fill="#fff"/>
<rect x="580" y="227" width="1" height="14" fill="#000"/>
<rect x="578" y="231" width="5" height="5" fill="#000"/>
<rect x="579" y="232" width="3" height="3" fill="#fff"/>
<rect x="588" y="216" width="1" height="23" fill="#000"/>
<rect x="586" y="229" width="5" height="4" fill="#000"/>
<rect x="587" y="230" width="3" height="2" fill="#fff"/>
<rect x="596" y="223" width="1" height="17" fill="#000"/>
<rect x="594" y="228" width="5" height="11" fill="#000"/>
<rect x="604" y="270" width="1" height="22" fill="#000"/>
<rect x="602" y="281" width="5" height="9" fill="#000"/>
<rect x="603" y="282" width="3" height="7" fill="#fff"/>
<rect x="612" y="261" width="1" height="22" fill="#000"/>
<rect x="610" y="266" width="5" height="15" fill="#000"/>
<rect x="611" y="267" width="3" height="13" fill="#fff"/>
<rect x="620" y="251" width="1" height="21" fill="#000"/>
<rect x="618" y="257" width="5" height="12" fill="#000"/>
<rect x="619" y="258" width="3" height="10" fill="#fff"/>
<rect x="628" y="250" width="1" height="7" fill="#000"/>
<rect x="626" y="253" width="5" height="1" fill="#000"/>
<rect x="636" y="221" width="1" height="39" fill="#000"/>
<rect x="634" y="226" width="5" height="29" fill="#000"/>
<rect x="635" y="227" width="3" height="27" fill="#fff"/>
<rect x="644" y="215" width="1" height="22" fill="#000"/>
<rect x="642" y="227" width="5" height="6" fill="#000"/>
<rect x="652" y="221" width="1" height="13" fill="#000"/>
<rect x="650" y="223" width="5" height="10" fill="#000"/>
<rect x="651" y="224" width="3" height="8" fill="#fff"/>
<rect x="660" y="217" width="1" height="11" fill="#000"/>
<rect x="658" y="218" width="5" height="7" fill="#000"/>
<rect x="659" y="219" width="3" height="5" fill="#fff"/>
<rect x="668" y="203" width="1" height="16" fill="#000"/>
<rect x="666" y="207" width="5" height="12" fill="#000"/>
<rect x="667" y="208" width="3" height="10" fill="#fff"/>
<rect x="676" y="168" width="1" height="19" fill="#000"/>
<rect x="674" y="170" width="5" height="4" fill="#000"/>
<rect x="684" y="164" width="1" height="21" fill="#000"/>
<rect x="682" y="166" width="5" height="12" fill="#000"/>
<rect x="683" y="167" width="3" height="10" fill="#fff"/>
<rect x="692" y="165" width="1" height="22" fill="#000"/>
<rect x="690" y="165" width="5" height="22" fill="#000"/>
<rect x="700" y="154" width="1" height="43" fill="#000"/>
<rect x="698" y="187" width="5" height="8" fill="#000"/>
<rect x="708" y="150" width="1" height="44" fill="#000"/>
<rect x="706" y="153" width="5" height="40" fill="#000"/>
<rect x="707" y="154" width="3" height="38" fill="#fff"/>
<rect x="716" y="153" width="1" height="13" fill="#000"/>
<rect x="714" y="154" width="5" height="12" fill="#000"/>
<rect x="724" y="144" width="1" height="17" fill="#000"/>
<rect x="722" y="145" width="5" height="9" fill="#000"/>
<rect x="723" y="146" width="3" height="7" fill="#fff"/>
<rect x="732" y="122" width="1" height="43" fill="#000"/>
<rect x="730" y="127" width="5" height="22" fill="#000"/>
<rect x="731" y="128" width="3" height="20" fill="#fff"/>
<rect x="740" y="113" width="1" height="20" fill="#000"/>
<rect x="738" y="118" width="5" height="9" fill="#000"/>
<rect x="739" y="119" width="3" height="7" fill="#fff"/>
<rect x="748" y="107" width="1" height="17" fill="#000"/>
<rect x="746" y="108" width="5" height="11" fill="#000"/>
<rect x="747" y="109" width="3" height="9" fill="#fff"/>
<rect x="756" y="98" width="1" height="16" fill="#000"/>
<rect x="754" y="107" width="5" height="1" fill="#000"/>
<rect x="764" y="105" width="1" height="8" fill="#000"/>
<rect x="762" y="107" width="5" height="2" fill="#000"/>
<rect x="772" y="139" width="1" height="15" fill="#000"/>
<rect x="770" y="152" width="5" height="2" fill="#000"/>
<rect x="780" y="133" width="1" height="38" fill="#000"/>
<rect x="778" y="140" width="5" height="11" fill="#000"/>
<rect x="779" y="141" width="3" height="9" fill="#fff"/>
<rect x="788" y="126" width="1" height="28" fill="#000"/>
<rect x="786" y="139" width="5" height="4" fill="#000"/>
<rect x="796" y="126" width="1" height="24" fill="#000"/>
<rect x="794" y="138" width="5" height="6" fill="#000"/>
<rect x="795" y="139" width="3" height="4" fill="#fff"/>
<rect x="804" y="131" width="1" height="20" fill="#000"/>
<rect x="802" y="137" width="5" height="2" fill="#000"/>
<rect x="812" y="136" width="1" height="10" fill="#000"/>
<rect x="810" y="136" width="5" height="2" fill="#000"/>
<rect x="820" y="115" width="1" height="22" fill="#000"/>
<rect x="818" y="127" width="5" height="10" fill="#000"/>
<rect x="828" y="111" width="1" height="40" fill="#000"/>
<rect x="826" y="124" width="5" height="11" fill="#000"/>
<rect x="827" y="125" width="3" height="9" fill="#fff"/>
<rect x="836" y="115" width="1" height="25" fill="#000"/>
<rect x="834" y="124" width="5" height="16" fill="#000"/>
<rect x="844" y="122" width="1" height="24" fill="#000"/>
<rect x="842" y="127" width="5" height="14" fill="#000"/>
<rect x="843" y="128" width="3" height="12" fill="#fff"/>
<rect x="852" y="115" width="1" height="13" fill="#000"/>
<rect x="850" y="116" width="5" height="11" fill="#000"/>
<rect x="851" y="117" width="3" height="9" fill="#fff"/>
<rect x="860" y="108" width="1" height="11" fill="#000"/>
<rect x="858" y="111" width="5" height="5" fill="#000"/>
<rect x="859" y="112" width="3" height="3" fill="#fff"/>
<rect x="868" y="110" width="1" height="8" fill="#000"/>
<rect x="866" y="113" width="5" height="5" fill="#000"/>
<rect x="876" y="111" width="1" height="22" fill="#000"/>
<rect x="874" y="116" width="5" height="12" fill="#000"/>
<rect x="884" y="121" width="1" height="9" fill="#000"/>
<rect x="882" y="126" width="5" height="3" fill="#000"/>
<rect x="883" y="127" width="3" height="1" fill="#fff"/>
<rect x="892" y="117" width="1" height="13" fill="#000"/>
<rect x="890" y="119" width="5" height="9" fill="#000"/>
<rect x="891" y="120" width="3" height="7" fill="#fff"/>
<rect x="900" y="116" width="1" height="23" fill="#000"/>
<rect x="898" y="120" width="5" height="12" fill="#000"/>
<rect x="908" y="97" width="1" height="36" fill="#000"/>
<rect x="906" y="97" width="5" height="34" fill="#000"/>
<rect x="907" y="98" width="3" height="32" fill="#fff"/>
<rect x="916" y="97" width="1" height="9" fill="#000"/>
<rect x="914" y="98" width="5" height="5" fill="#000"/>
<rect x="924" y="55" width="1" height="65" fill="#000"/>
<rect x="922" y="101" width="5" height="7" fill="#000"/>
<rect x="932" y="92" width="1" height="28" fill="#000"/>
<rect x="930" y="107" width="5" height="5" fill="#000"/>
<rect x="940" y="73" width="1" height="41" fill="#000"/>
<rect x="938" y="74" width="5" height="39" fill="#000"/>
<rect x="939" y="75" width="3" height="37" fill="#fff"/>
<rect x="948" y="68" width="1" height="20" fill="#000"/>
<rect x="946" y="75" width="5" height="12" fill="#000"/>
<rect x="956" y="81" width="1" height="15" fill="#000"/>
<rect x="954" y="87" width="5" height="8" fill="#000"/>
<rect x="964" y="80" width="1" height="8" fill="#000"/>
<rect x="962" y="85" width="5" height="3" fill="#000"/>
<rect x="963" y="86" width="3" height="1" fill="#fff"/>
<rect x="972" y="70" width="1" height="33" fill="#000"/>
<rect x="970" y="86" width="5" height="1" fill="#000"/>
<rect x="980" y="78" width="1" height="29" fill="#000"/>
<rect x="978" y="85" width="5" height="1" fill="#000"/>
<rect x="988" y="73" width="1" height="15" fill="#000"/>
<rect x="986" y="81" width="5" height="6" fill="#000"/>
<rect x="987" y="82" width="3" height="4" fill="#fff"/>
<rect x="996" y="80" width="1" height="40" fill="#000"/>
<rect x="994" y="82" width="5" height="24" fill="#000"/>
<rect x="1004" y="103" width="1" height="28" fill="#000"/>
<rect x="1002" y="103" width="5" height="25" fill="#000"/>
<rect x="1012" y="91" width="1" height="15" fill="#000"/>
<rect x="1010" y="101" width="5" height="3" fill="#000"/>
<rect x="1011" y="102" width="3" height="1" fill="#fff"/>
<rect x="1020" y="87" width="1" height="19" fill="#000"/>
<rect x="1018" y="94" width="5" height="9" fill="#000"/>
<rect x="1019" y="95" width="3" height="7" fill="#fff"/>
<rect x="1028" y="88" width="1" height="68" fill="#000"/>
<rect x="1026" y="92" width="5" height="51" fill="#000"/>
<rect x="1036" y="132" width="1" height="19" fill="#000"/>
<rect x="1034" y="140" width="5" height="9" fill="#000"/>
<rect x="1044" y="127" width="1" height="23" fill="#000"/>
<rect x="1042" y="131" width="5" height="17" fill="#000"/>
<rect x="1043" y="132" width="3" height="15" fill="#fff"/>
<rect x="1052" y="124" width="1" height="17" fill="#000"/>
<rect x="1050" y="129" width="5" height="2" fill="#000"/>
<rect x="1060" y="87" width="1" height="31" fill="#000"/>
<rect x="1058" y="100" width="5" height="14" fill="#000"/>
<rect x="1059" y="101" width="3" height="12" fill="#fff"/>
<rect x="1068" y="78" width="1" height="24" fill="#000"/>
<rect x="1066" y="91" width="5" height="8" fill="#000"/>
<rect x="1067" y="92" width="3" height="6" fill="#fff"/>
<rect x="1076" y="85" width="1" height="14" fill="#000"/>
<rect x="1074" y="86" width="5" height="7" fill="#000"/>
<rect x="1075" y="87" width="3" height="5" fill="#fff"/>
<rect x="1084" y="84" width="1" height="23" fill="#000"/>
<rect x="1082" y="87" width="5" height="15" fill="#000"/>
<rect x="1092" y="101" width="1" height="61" fill="#000"/>
<rect x="1090" y="102" width="5" height="41" fill="#000"/>
<rect x="1100" y="139" width="1" height="20" fill="#000"/>
<rect x="1098" y="143" width="5" height="5" fill="#000"/>
<rect x="1108" y="126" width="1" height="14" fill="#000"/>
<rect x="1106" y="127" width="5" height="13" fill="#000"/>
<rect x="1107" y="128" width="3" height="11" fill="#fff"/>
<rect x="1116" y="102" width="1" height="43" fill="#000"/>
<rect x="1114" y="118" width="5" height="11" fill="#000"/>
<rect x="1115" y="119" width="3" height="9" fill="#fff"/>
<rect x="1124" y="113" width="1" height="47" fill="#000"/>
<rect x="1122" y="119" width="5" height="32" fill="#000"/>
<rect x="1132" y="118" width="1" height="43" fill="#000"/>
<rect x="1130" y="118" width="5" height="34" fill="#000"/>
<rect x="1131" y="119" width="3" height="32" fill="#fff"/>
<rect x="1140" y="102" width="1" height="28" fill="#000"/>
<rect x="1138" y="105" width="5" height="15" fill="#000"/>
<rect x="1139" y="106" width="3" height="13" fill="#fff"/>
<rect x="1148" y="102" width="1" height="7" fill="#000"/>
<rect x="1146" y="106" width="5" height="1" fill="#000"/>
<rect x="1156" y="78" width="1" height="24" fill="#000"/>
<rect x="1154" y="79" width="5" height="18" fill="#000"/>
<rect x="1155" y="80" width="3" height="16" fill="#fff"/>
<rect x="1164" y="75" width="1" height="32" fill="#000"/>
<rect x="1162" y="81" width="5" height="20" fill="#000"/>
<rect x="1172" y="87" width="1" height="35" fill="#000"/>
<rect x="1170" y="95" width="5" height="6" fill="#000"/>
<rect x="1171" y="96" width="3" height="4" fill="#fff"/>
<rect x="1180" y="86" width="1" height="21" fill="#000"/>
<rect x="1178" y="95" width="5" height="2" fill="#000"/>
<rect x="1188" y="84" width="1" height="25" fill="#000"/>
<rect x="1186" y="89" width="5" height="9" fill="#000"/>
<rect x="1187" y="90" width="3" height="7" fill="#fff"/>
<rect x="1196" y="79" width="1" height="13" fill="#000"/>
<rect x="1194" y="88" width="5" height="2" fill="#000"/>
<rect x="1204" y="81" width="1" height="11" fill="#000"/>
<rect x="1202" y="85" width="5" height="6" fill="#000"/>
<rect x="1212" y="90" width="1" height="58" fill="#000"/>
<rect x="1210" y="95" width="5" height="44" fill="#000"/>
<rect x="1220" y="96" width="1" height="50" fill="#000"/>
<rect x="1218" y="101" width="5" height="39" fill="#000"/>
<rect x="1219" y="102" width="3" height="37" fill="#fff"/>
<rect x="1228" y="96" width="1" height="32" fill="#000"/>
<rect x="1226" y="100" width="5" height="13" fill="#000"/>
<rect x="1236" y="107" width="1" height="52" fill="#000"/>
<rect x="1234" y="111" width="5" height="48" fill="#000"/>
<rect x="1244" y="139" width="1" height="20" fill="#000"/>
<rect x="1242" y="149" width="5" height="9" fill="#000"/>
<rect x="1243" y="150" width="3" height="7" fill="#fff"/>
<rect x="1252" y="137" width="1" height="14" fill="#000"/>
<rect x="1250" y="139" width="5" height="2" fill="#000"/>
<rect x="1260" y="124" width="1" height="22" fill="#000"/>
<rect x="1258" y="134" width="5" height="4" fill="#000"/>
<rect x="1259" y="135" width="3" height="2" fill="#fff"/>
<rect x="1268" y="134" width="1" height="29" fill="#000"/>
<rect x="1266" y="136" width="5" height="12" fill="#000"/>
<rect x="1276" y="132" width="1" height="23" fill="#000"/>
<rect x="1274" y="132" width="5" height="19" fill="#000"/>
<rect x="1275" y="133" width="3" height="17" fill="#fff"/>
<rect x="1284" y="113" width="1" height="22" fill="#000"/>
<rect x="1282" y="116" width="5" height="16" fill="#000"/>
<rect x="1283" y="117" width="3" height="14" fill="#fff"/>
<rect x="1292" y="107" width="1" height="17" fill="#000"/>
<rect x="1290" y="110" width="5" height="7" fill="#000"/>
<rect x="1291" y="111" width="3" height="5" fill="#fff"/>
<rect x="1300" y="107" width="1" height="18" fill="#000"/>
<rect x="1298" y="111" width="5" height="14" fill="#000"/>
<rect x="1308" y="95" width="1" height="33" fill="#000"/>
<rect x="1306" y="98" width="5" height="25" fill="#000"/>
<rect x="1307" y="99" width="3" height="23" fill="#fff"/>
<rect x="1316" y="70" width="1" height="38" fill="#000"/>
<rect x="1314" y="90" width="5" height="8" fill="#000"/>
<rect x="1315" y="91" width="3" height="6" fill="#fff"/>
<rect x="1324" y="81" width="1" height="58" fill="#000"/>
<rect x="1322" y="89" width="5" height="46" fill="#000"/>
<rect x="1332" y="134" width="1" height="29" fill="#000"/>
<rect x="1330" y="136" width="5" height="15" fill="#000"/>
<rect x="1340" y="146" width="1" height="14" fill="#000"/>
<rect x="1338" y="152" width="5" height="7" fill="#000"/>
<rect x="1253" y="139" width="111" height="11" fill="#00ff00"/>
<polygon points="1341,29 1351,29 1346,34.5" fill="#c0c0c0" shape-rendering="auto"/>
<rect x="4" y="693" width="1" height="16" fill="#c0c0c0"/>
<rect x="12" y="691" width="1" height="18" fill="#c0c0c0"/>
<rect x="20" y="690" width="1" height="19" fill="#c0c0c0"/>
<rect x="28" y="693" width="1" height="16" fill="#c0c0c0"/>
<rect x="36" y="708" width="1" height="7" fill="#c0c0c0"/>
<rect x="44" y="708" width="1" height="26" fill="#c0c0c0"/>
<rect x="52" y="708" width="1" height="45" fill="#c0c0c0"/>
<rect x="60" y="708" width="1" height="49" fill="#c0c0c0"/>
<rect x="68" y="708" width="1" height="40" fill="#c0c0c0"/>
<rect x="76" y="708" width="1" height="35" fill="#c0c0c0"/>
<rect x="84" y="708" width="1" height="29" fill="#c0c0c0"/>
<rect x="92" y="708" width="1" height="22" fill="#c0c0c0"/>
<rect x="100" y="708" width="1" height="21" fill="#c0c0c0"/>
<rect x="108" y="708" width="1" height="18" fill="#c0c0c0"/>
<rect x="116" y="708" width="1" height="16" fill="#c0c0c0"/>
<rect x="124" y="708" width="1" height="12" fill="#c0c0c0"/>
<rect x="132" y="708" width="1" height="11" fill="#c0c0c0"/>
<rect x="140" y="708" width="1" height="14" fill="#c0c0c0"/>
<rect x="148" y="708" width="1" height="13" fill="#c0c0c0"/>
<rect x="156" y="708" width="1" height="12" fill="#c0c0c0"/>
<rect x="164" y="708" width="1" height="14" fill="#c0c0c0"/>
<rect x="172" y="708" width="1" height="13" fill="#c0c0c0"/>
<rect x="180" y="708" width="1" height="10" fill="#c0c0c0"/>
<rect x="188" y="708" width="1" height="7" fill="#c0c0c0"/>
<rect x="196" y="708" width="1" height="5" fill="#c0c0c0"/>
<rect x="204" y="708" width="1" height="7" fill="#c0c0c0"/>
<rect x="212" y="704" width="1" height="5" fill="#c0c0c0"/>
<rect x="220" y="697" width="1" height="12" fill="#c0c0c0"/>
<rect x="228" y="687" width="1" height="22" fill="#c0c0c0"/>
<rect x="236" y="681" width="1" height="28" fill="#c0c0c0"/>
<rect x="244" y="679" width="1" height="30" fill="#c0c0c0"/>
<rect x="252" y="673" width="1" height="36" fill="#c0c0c0"/>
<rect x="260" y="666" width="1" height="43" fill="#c0c0c0"/>
<rect x="268" y="665" width="1" height="44" fill="#c0c0c0"/>
<rect x="276" y="668" width="1" height="41" fill="#c0c0c0"/>
<rect x="284" y="670" width="1" height="39" fill="#c0c0c0"/>
<rect x="292" y="676" width="1" height="33" fill="#c0c0c0"/>
<rect x="300" y="679" width="1" height="30" fill="#c0c0c0"/>
<rect x="308" y="681" width="1" height="28" fill="#c0c0c0"/>
<rect x="316" y="684" width="1" height="25" fill="#c0c0c0"/>
<rect x="324" y="689" width="1" height="20" fill="#c0c0c0"/>
<rect x="332" y="695" width="1" height="14" fill="#c0c0c0"/>
<rect x="340" y="698" width="1" height="11" fill="#c0c0c0"/>
<rect x="348" y="698" width="1" height="11" fill="#c0c0c0"/>
<rect x="356" y="701" width="1" height="8" fill="#c0c0c0"/>
<rect x="364" y="703" width="1" height="6" fill="#c0c0c0"/>
<rect x="372" y="706" width="1" height="3" fill="#c0c0c0"/>
<rect x="380" y="706" width="1" height="3" fill="#c0c0c0"/>
<rect x="388" y="707" width="1" height="2" fill="#c0c0c0"/>
<rect x="396" y="707" width="1" height="2" fill="#c0c0c0"/>
<rect x="404" y="698" width="1" height="11" fill="#c0c0c0"/>
<rect x="412" y="691" width="1" height="18" fill="#c0c0c0"/>
<rect x="420" y="684" width="1" height="25" fill="#c0c0c0"/>
<rect x="428" y="678" width="1" height="31" fill="#c0c0c0"/>
<rect x="436" y="675" width="1" height="34" fill="#c0c0c0"/>
<rect x="444" y="655" width="1" height="54" fill="#c0c0c0"/>
<rect x="452" y="641" width="1" height="68" fill="#c0c0c0"/>
<rect x="460" y="625" width="1" height="84" fill="#c0c0c0"/>
<rect x="468" y="615" width="1" height="94" fill="#c0c0c0"/>
<rect x="476" y="610" width="1" height="99" fill="#c0c0c0"/>
<rect x="484" y="604" width="1" height="105" fill="#c0c0c0"/>
<rect x="492" y="601" width="1" height="108" fill="#c0c0c0"/>
<rect x="500" y="601" width="1" height="108" fill="#c0c0c0"/>
<rect x="508" y="601" width="1" height="108" fill="#c0c0c0"/>
<rect x="516" y="601" width="1" height="108" fill="#c0c0c0"/>
<rect x="524" y="603" width="1" height="106" fill="#c0c0c0"/>
<rect x="532" y="606" width="1" height="103" fill="#c0c0c0"/>
<rect x="540" y="604" width="1" height="105" fill="#c0c0c0"/>
<rect x="548" y="602" width="1" height="107" fill="#c0c0c0"/>
<rect x="556" y="601" width="1" height="108" fill="#c0c0c0"/>
<rect x="564" y="603" width="1" height="106" fill="#c0c0c0"/>
<rect x="572" y="604" width="1" height="105" fill="#c0c0c0"/>
<rect x="580" y="605" width="1" height="104" fill="#c0c0c0"/>
<rect x="588" y="607" width="1" height="102" fill="#c0c0c0"/>
<rect x="596" y="610" width="1" height="99" fill="#c0c0c0"/>
<rect x="604" y="625" width="1" height="84" fill="#c0c0c0"/>
<rect x="612" y="633" width="1" height="76" fill="#c0c0c0"/>
<rect x="620" y="639" width="1" height="70" fill="#c0c0c0"/>
<rect x="628" y="643" width="1" height="66" fill="#c0c0c0"/>
<rect x="636" y="641" width="1" height="68" fill="#c0c0c0"/>
<rect x="644" y="642" width="1" height="67" fill="#c0c0c0"/>
<rect x="652" y="642" width="1" height="67" fill="#c0c0c0"/>
<rect x="660" y="641" width="1" height="68" fill="#c0c0c0"/>
<rect x="668" y="639" width="1" height="70" fill="#c0c0c0"/>
<rect x="676" y="630" width="1" height="79" fill="#c0c0c0"/>
<rect x="684" y="623" width="1" height="86" fill="#c0c0c0"/>
<rect x="692" y="623" width="1" height="86" fill="#c0c0c0"/>
<rect x="700" y="625" width="1" height="84" fill="#c0c0c0"/>
<rect x="708" y="619" width="1" height="90" fill="#c0c0c0"/>
<rect x="716" y="618" width="1" height="91" fill="#c0c0c0"/>
<rect x="724" y="614" width="1" height="95" fill="#c0c0c0"/>
<rect x="732" y="607" width="1" height="102" fill="#c0c0c0"/>
<rect x="740" y="602" width="1" height="107" fill="#c0c0c0"/>
<rect x="748" y="597" width="1" height="112" fill="#c0c0c0"/>
<rect x="756" y="594" width="1" height="115" fill="#c0c0c0"/>
<rect x="764" y="594" width="1" height="115" fill="#c0c0c0"/>
<rect x="772" y="603" width="1" height="106" fill="#c0c0c0"/>
<rect x="780" y="609" width="1" height="100" fill="#c0c0c0"/>
<rect x="788" y="617" width="1" height="92" fill="#c0c0c0"/>
<rect x="796" y="622" width="1" height="87" fill="#c0c0c0"/>
<rect x="804" y="628" width="1" height="81" fill="#c0c0c0"/>
<rect x="812" y="632" width="1" height="77" fill="#c0c0c0"/>
<rect x="820" y="637" width="1" height="72" fill="#c0c0c0"/>
<rect x="828" y="638" width="1" height="71" fill="#c0c0c0"/>
<rect x="836" y="644" width="1" height="65" fill="#c0c0c0"/>
<rect x="844" y="646" width="1" height="63" fill="#c0c0c0"/>
<rect x="852" y="646" width="1" height="63" fill="#c0c0c0"/>
<rect x="860" y="646" width="1" height="63" fill="#c0c0c0"/>
<rect x="868" y="648" width="1" height="61" fill="#c0c0c0"/>
<rect x="876" y="652" width="1" height="57" fill="#c0c0c0"/>
<rect x="884" y="656" width="1" height="53" fill="#c0c0c0"/>
<rect x="892" y="658" width="1" height="51" fill="#c0c0c0"/>
<rect x="900" y="663" width="1" height="46" fill="#c0c0c0"/>
<rect x="908" y="660" width="1" height="49" fill="#c0c0c0"/>
<rect x="916" y="659" width="1" height="50" fill="#c0c0c0"/>
<rect x="924" y="660" width="1" height="49" fill="#c0c0c0"/>
<rect x="932" y="663" width="1" height="46" fill="#c0c0c0"/>
<rect x="940" y="657" width="1" height="52" fill="#c0c0c0"/>
<rect x="948" y="656" width="1" height="53" fill="#c0c0c0"/>
<rect x="956" y="657" width="1" height="52" fill="#c0c0c0"/>
<rect x="964" y="657" width="1" height="52" fill="#c0c0c0"/>
<rect x="972" y="658" width="1" height="51" fill="#c0c0c0"/>
<rect x="980" y="658" width="1" height="51" fill="#c0c0c0"/>
<rect x="988" y="658" width="1" height="51" fill="#c0c0c0"/>
<rect x="996" y="664" width="1" height="45" fill="#c0c0c0"/>
<rect x="1004" y="674" width="1" height="35" fill="#c0c0c0"/>
<rect x="1012" y="677" width="1" height="32" fill="#c0c0c0"/>
<rect x="1020" y="678" width="1" height="31" fill="#c0c0c0"/>
<rect x="1028" y="689" width="1" height="20" fill="#c0c0c0"/>
<rect x="1036" y="700" width="1" height="9" fill="#c0c0c0"/>
<rect x="1044" y="704" width="1" height="5" fill="#c0c0c0"/>
<rect x="1052" y="708" width="1" height="1" fill="#c0c0c0"/>
<rect x="1060" y="704" width="1" height="5" fill="#c0c0c0"/>
<rect x="1068" y="699" width="1" height="10" fill="#c0c0c0"/>
<rect x="1076" y="695" width="1" height="14" fill="#c0c0c0"/>
<rect x="1084" y="694" width="1" height="15" fill="#c0c0c0"/>
<rect x="1092" y="703" width="1" height="6" fill="#c0c0c0"/>
<rect x="1100" y="708" width="1" height="2" fill="#c0c0c0"/>
<rect x="1108" y="708" width="1" height="4" fill="#c0c0c0"/>
<rect x="1116" y="708" width="1" height="4" fill="#c0c0c0"/>
<rect x="1124" y="708" width="1" height="10" fill="#c0c0c0"/>
<rect x="1132" y="708" width="1" height="8" fill="#c0c0c0"/>
<rect x="1140" y="708" width="1" height="4" fill="#c0c0c0"/>
<rect x="1156" y="701" width="1" height="8" fill="#c0c0c0"/>
<rect x="1164" y="699" width="1" height="10" fill="#c0c0c0"/>
<rect x="1172" y="697" width="1" height="12" fill="#c0c0c0"/>
<rect x="1180" y="695" width="1" height="14" fill="#c0c0c0"/>
<rect x="1188" y="692" width="1" height="17" fill="#c0c0c0"/>
<rect x="1196" y="690" width="1" height="19" fill="#c0c0c0"/>
<rect x="1204" y="689" width="1" height="20" fill="#c0c0c0"/>
<rect x="1212" y="699" width="1" height="10" fill="#c0c0c0"/>
<rect x="1220" y="699" width="1" height="10" fill="#c0c0c0"/>
<rect x="1228" y="701" width="1" height="8" fill="#c0c0c0"/>
<rect x="1236" y="708" width="1" height="4" fill="#c0c0c0"/>
<rect x="1244" y="708" width="1" height="12" fill="#c0c0c0"/>
<rect x="1252" y="708" width="1" height="15" fill="#c0c0c0"/>
<rect x="1260" y="708" width="1" height="17" fill="#c0c0c0"/>
<rect x="1268" y="708" width="1" height="21" fill="#c0c0c0"/>
<rect x="1276" y="708" width="1" height="20" fill="#c0c0c0"/>
<rect x="1284" y="708" width="1" height="16" fill="#c0c0c0"/>
<rect x="1292" y="708" width="1" height="11" fill="#c0c0c0"/>
<rect x="1300" y="708" width="1" height="10" fill="#c0c0c0"/>
<rect x="1308" y="708" width="1" height="4" fill="#c0c0c0"/>
<rect x="1316" y="706" width="1" height="3" fill="#c0c0c0"/>
<rect x="1324" y="708" width="1" height="2" fill="#c0c0c0"/>
<rect x="1332" y="708" width="1" height="8" fill="#c0c0c0"/>
<rect x="1340" y="708" width="1" height="15" fill="#c0c0c0"/>
<path d="M553 602.5h1M557 602.5h3M563 602.5h3M569 602.5h3M575 602.5h3M581 602.5h3M545 603.5h3M551 603.5h2M587 603.5h3M535 604.5h1M539 604.5h3M593 604.5h3M779 604.5h3M785 604.5h3M791 604.5h3M529 605.5h1M533 605.5h2M599 605.5h2M775 605.5h1M797 605.5h1M527 606.5h2M601 606.5h1M769 606.5h1M773 606.5h2M798 606.5h2M523 607.5h1M605 607.5h3M767 607.5h2M803 607.5h1M521 608.5h2M762 608.5h2M804 608.5h2M611 609.5h2M761 609.5h1M809 609.5h3M517 610.5h1M613 610.5h1M516 611.5h1M617 611.5h2M755 611.5h3M815 611.5h2M515 612.5h1M619 612.5h1M817 612.5h1M750 613.5h2M623 614.5h2M749 614.5h1M821 614.5h1M510 615.5h2M625 615.5h1M745 615.5h1M822 615.5h2M509 616.5h1M743 616.5h2M629 617.5h1M630 618.5h2M738 618.5h2M827 618.5h2M737 619.5h1M829 619.5h1M505 620.5h1M505 621.5h1M635 621.5h1M732 621.5h2M504 622.5h1M636 622.5h2M731 622.5h1M833 622.5h1M834 623.5h2M726 624.5h2M641 625.5h1M725 625.5h1M500 626.5h1M642 626.5h2M839 626.5h1M499 627.5h1M720 627.5h2M840 627.5h2M498 628.5h1M647 628.5h1M719 628.5h1M648 629.5h2M713 630.5h3M845 630.5h2M494 631.5h1M653 631.5h1M847 631.5h1M493 632.5h1M654 632.5h2M707 632.5h3M492 633.5h1M703 633.5h1M851 633.5h2M659 634.5h2M697 634.5h1M701 634.5h2M853 634.5h1M661 635.5h1M691 635.5h1M695 635.5h2M665 636.5h3M689 636.5h2M857 636.5h2M489 637.5h1M671 637.5h3M683 637.5h3M859 637.5h1M488 638.5h1M677 638.5h3M863 638.5h1M487 639.5h1M864 639.5h2M869 641.5h3M875 642.5h1M484 643.5h1M876 643.5h2M484 644.5h1M881 644.5h1M483 645.5h1M882 645.5h2M887 646.5h1M888 647.5h2M893 648.5h3M480 649.5h1M899 649.5h1M479 650.5h1M900 650.5h2M478 651.5h1M905 651.5h3M911 652.5h1M912 653.5h2M917 654.5h3M475 655.5h1M923 655.5h1M475 656.5h1M924 656.5h2M474 657.5h1M929 657.5h3M935 658.5h3M941 658.5h3M947 658.5h3M953 658.5h3M959 658.5h3M965 658.5h3M971 658.5h3M977 658.5h3M983 658.5h3M989 658.5h3M995 658.5h3M1001 659.5h3M1007 660.5h3M471 661.5h1M470 662.5h1M1013 662.5h2M469 663.5h1M1015 663.5h1M1019 664.5h3M1025 666.5h3M465 667.5h1M465 668.5h1M1031 668.5h1M464 669.5h1M1032 669.5h2M302 672.5h3M308 672.5h3M1037 672.5h1M291 673.5h2M296 673.5h3M314 673.5h3M460 673.5h1M1038 673.5h2M286 674.5h1M290 674.5h1M320 674.5h1M459 674.5h1M284 675.5h2M321 675.5h2M458 675.5h1M326 676.5h2M1043 676.5h1M328 677.5h1M1044 677.5h1M279 678.5h2M332 678.5h1M1045 678.5h1M278 679.5h1M333 679.5h2M454 679.5h1M338 680.5h2M453 680.5h1M1049 680.5h1M340 681.5h1M452 681.5h1M1050 681.5h2M273 683.5h2M344 683.5h2M2 684.5h3M272 684.5h1M346 684.5h1M1055 684.5h1M8 685.5h2M448 685.5h1M1056 685.5h2M10 686.5h1M14 686.5h3M350 686.5h3M447 686.5h1M20 687.5h3M267 687.5h2M446 687.5h1M26 688.5h2M266 688.5h1M356 688.5h2M1061 688.5h1M28 689.5h1M358 689.5h1M1062 689.5h2M32 690.5h1M261 690.5h2M362 690.5h1M442 690.5h1M33 691.5h2M260 691.5h1M363 691.5h2M440 691.5h2M1067 691.5h2M1069 692.5h1M368 693.5h2M1073 693.5h1M38 694.5h1M256 694.5h1M370 694.5h1M436 694.5h1M1074 694.5h2M39 695.5h1M254 695.5h2M374 695.5h1M434 695.5h2M1079 695.5h2M40 696.5h1M375 696.5h2M1081 696.5h1M1212 696.5h2M1217 696.5h3M1223 696.5h3M1229 696.5h3M1235 696.5h1M380 697.5h2M430 697.5h1M1085 697.5h3M1205 697.5h3M1211 697.5h1M1236 697.5h2M250 698.5h1M382 698.5h1M428 698.5h2M1241 698.5h2M44 699.5h1M248 699.5h2M386 699.5h3M422 699.5h3M1091 699.5h3M1201 699.5h1M1243 699.5h1M45 700.5h2M392 700.5h2M417 700.5h2M1097 700.5h1M1199 700.5h2M1247 700.5h1M394 701.5h1M398 701.5h3M410 701.5h3M416 701.5h1M1098 701.5h2M1248 701.5h2M243 702.5h2M404 702.5h3M1103 702.5h3M1109 702.5h1M1194 702.5h2M50 703.5h1M242 703.5h1M1110 703.5h2M1115 703.5h3M1193 703.5h1M1253 703.5h2M51 704.5h1M1121 704.5h3M1188 704.5h2M1255 704.5h1M52 705.5h1M237 705.5h2M1127 705.5h1M1187 705.5h1M236 706.5h1M1128 706.5h2M1181 706.5h3M1259 706.5h2M1133 707.5h3M1177 707.5h1M1261 707.5h1M232 708.5h1M1139 708.5h1M1175 708.5h2M56 709.5h1M230 709.5h2M1140 709.5h2M1145 709.5h3M1169 709.5h3M1265 709.5h2M57 710.5h1M1151 710.5h3M1157 710.5h3M1163 710.5h3M1267 710.5h1M58 711.5h1M225 712.5h2M1271 712.5h1M224 713.5h1M1272 713.5h2M220 714.5h1M62 715.5h1M218 715.5h2M1277 715.5h1M63 716.5h2M1278 716.5h2M212 717.5h3M1337 717.5h3M208 718.5h1M1283 718.5h2M1331 718.5h3M200 719.5h3M206 719.5h2M1285 719.5h1M1325 719.5h3M68 720.5h1M188 720.5h3M194 720.5h3M1289 720.5h3M1315 720.5h1M1319 720.5h3M69 721.5h2M176 721.5h3M182 721.5h3M1295 721.5h3M1301 721.5h2M1313 721.5h2M164 722.5h3M170 722.5h3M1303 722.5h1M1307 722.5h3M158 723.5h3M74 724.5h1M152 724.5h3M75 725.5h1M148 725.5h1M76 726.5h1M146 726.5h2M80 728.5h1M140 728.5h3M81 729.5h1M82 730.5h1M135 730.5h2M134 731.5h1M86 732.5h2M88 733.5h1M129 733.5h2M128 734.5h1M92 735.5h2M124 735.5h1M94 736.5h1M122 736.5h2M98 737.5h1M99 738.5h2M104 738.5h1M116 738.5h3M105 739.5h2M110 739.5h3" fill="none" stroke="#ff0000" stroke-width="1"/>
<line x1="3" y1="801.5" x2="1624" y2="801.5" stroke="#c0c0c0" stroke-width="1" stroke-dasharray="3 3"/>
<line x1="3" y1="848.5" x2="1624" y2="848.5" stroke="#c0c0c0" stroke-width="1" stroke-dasharray="3 3"/>
<line x1="3" y1="904.5" x2="1624" y2="904.5" stroke="#c0c0c0" stroke-width="1" stroke-dasharray="3 3"/>
<path d="M444 805.5h2M460 805.5h2M444 806.5h1M446 806.5h2M458 806.5h2M462 806.5h2M555 806.5h2M443 807.5h1M448 807.5h2M456 807.5h2M464 807.5h2M551 807.5h4M557 807.5h1M443 808.5h1M450 808.5h2M454 808.5h2M466 808.5h2M547 808.5h4M558 808.5h1M683 808.5h2M753 808.5h6M443 809.5h1M452 809.5h2M468 809.5h1M545 809.5h2M559 809.5h1M585 809.5h4M679 809.5h4M685 809.5h1M745 809.5h8M759 809.5h4M442 810.5h1M469 810.5h2M489 810.5h4M542 810.5h3M560 810.5h1M579 810.5h6M589 810.5h1M676 810.5h3M685 810.5h1M739 810.5h6M763 810.5h2M442 811.5h1M471 811.5h1M484 811.5h5M493 811.5h2M540 811.5h2M561 811.5h1M575 811.5h4M590 811.5h1M675 811.5h1M686 811.5h1M735 811.5h4M764 811.5h1M442 812.5h1M472 812.5h1M482 812.5h2M495 812.5h1M539 812.5h1M562 812.5h1M571 812.5h4M591 812.5h1M674 812.5h1M686 812.5h1M732 812.5h3M765 812.5h1M441 813.5h1M473 813.5h2M480 813.5h2M496 813.5h1M515 813.5h6M537 813.5h2M563 813.5h1M567 813.5h4M592 813.5h1M673 813.5h1M687 813.5h1M730 813.5h2M765 813.5h1M441 814.5h1M475 814.5h1M478 814.5h2M497 814.5h2M511 814.5h4M521 814.5h5M536 814.5h1M564 814.5h3M593 814.5h1M672 814.5h1M688 814.5h1M728 814.5h2M765 814.5h1M441 815.5h1M476 815.5h2M499 815.5h1M505 815.5h6M526 815.5h3M535 815.5h1M594 815.5h1M672 815.5h1M688 815.5h1M708 815.5h1M726 815.5h2M766 815.5h1M440 816.5h1M500 816.5h5M529 816.5h2M533 816.5h2M595 816.5h1M671 816.5h1M689 816.5h1M707 816.5h1M709 816.5h2M724 816.5h2M766 816.5h1M440 817.5h1M531 817.5h2M596 817.5h1M670 817.5h1M690 817.5h1M706 817.5h1M711 817.5h1M722 817.5h2M766 817.5h1M439 818.5h1M596 818.5h1M669 818.5h1M690 818.5h1M706 818.5h1M712 818.5h1M721 818.5h1M767 818.5h1M439 819.5h1M597 819.5h1M667 819.5h2M691 819.5h1M705 819.5h1M713 819.5h2M719 819.5h2M767 819.5h1M940 819.5h1M439 820.5h1M597 820.5h1M665 820.5h2M691 820.5h1M704 820.5h1M715 820.5h1M717 820.5h2M767 820.5h1M939 820.5h1M941 820.5h1M438 821.5h1M597 821.5h1M662 821.5h3M692 821.5h2M703 821.5h1M716 821.5h1M768 821.5h1M939 821.5h1M942 821.5h1M438 822.5h1M597 822.5h1M659 822.5h3M694 822.5h2M702 822.5h1M768 822.5h1M938 822.5h1M943 822.5h1M427 823.5h2M438 823.5h1M598 823.5h1M636 823.5h2M655 823.5h4M696 823.5h2M702 823.5h1M768 823.5h1M859 823.5h3M938 823.5h1M944 823.5h1M423 824.5h4M429 824.5h2M437 824.5h1M598 824.5h1M635 824.5h1M638 824.5h2M651 824.5h4M698 824.5h2M701 824.5h1M769 824.5h1M855 824.5h4M862 824.5h2M908 824.5h2M937 824.5h1M944 824.5h1M260 825.5h1M419 825.5h4M431 825.5h2M437 825.5h1M598 825.5h1M634 825.5h1M640 825.5h2M649 825.5h2M700 825.5h1M769 825.5h1M828 825.5h1M852 825.5h3M864 825.5h2M907 825.5h1M910 825.5h3M937 825.5h1M945 825.5h1M258 826.5h2M261 826.5h1M417 826.5h2M433 826.5h1M437 826.5h1M599 826.5h1M634 826.5h1M642 826.5h2M646 826.5h3M769 826.5h1M826 826.5h2M829 826.5h1M850 826.5h2M866 826.5h2M907 826.5h1M913 826.5h2M936 826.5h1M946 826.5h1M257 827.5h1M262 827.5h1M414 827.5h3M434 827.5h3M599 827.5h1M633 827.5h1M644 827.5h2M770 827.5h1M824 827.5h2M830 827.5h1M848 827.5h2M868 827.5h1M906 827.5h1M915 827.5h3M936 827.5h1M947 827.5h1M987 827.5h2M255 828.5h2M262 828.5h1M404 828.5h10M436 828.5h1M599 828.5h1M632 828.5h1M770 828.5h1M822 828.5h2M831 828.5h1M846 828.5h2M869 828.5h1M906 828.5h1M918 828.5h2M935 828.5h1M948 828.5h2M983 828.5h4M988 828.5h1M228 829.5h3M253 829.5h2M263 829.5h1M404 829.5h1M599 829.5h1M631 829.5h1M770 829.5h1M809 829.5h13M832 829.5h1M844 829.5h2M870 829.5h1M905 829.5h1M920 829.5h2M935 829.5h1M950 829.5h2M963 829.5h20M989 829.5h1M226 830.5h2M231 830.5h4M252 830.5h1M264 830.5h1M403 830.5h1M600 830.5h1M630 830.5h1M771 830.5h1M780 830.5h5M793 830.5h16M832 830.5h1M842 830.5h2M871 830.5h2M905 830.5h1M922 830.5h2M934 830.5h1M952 830.5h2M961 830.5h2M989 830.5h1M225 831.5h1M235 831.5h3M250 831.5h2M265 831.5h1M403 831.5h1M600 831.5h1M630 831.5h1M771 831.5h1M778 831.5h2M785 831.5h8M833 831.5h1M841 831.5h1M873 831.5h1M891 831.5h2M904 831.5h1M924 831.5h2M934 831.5h1M954 831.5h2M958 831.5h3M990 831.5h1M212 832.5h3M223 832.5h2M238 832.5h2M249 832.5h1M266 832.5h1M402 832.5h1M600 832.5h1M629 832.5h1M771 832.5h1M776 832.5h2M834 832.5h1M839 832.5h2M874 832.5h1M889 832.5h2M893 832.5h1M904 832.5h1M926 832.5h3M933 832.5h1M956 832.5h2M990 832.5h1M212 833.5h1M215 833.5h4M221 833.5h2M240 833.5h2M247 833.5h2M266 833.5h1M402 833.5h1M601 833.5h1M627 833.5h2M772 833.5h1M774 833.5h2M835 833.5h1M837 833.5h2M875 833.5h1M886 833.5h3M894 833.5h1M903 833.5h1M929 833.5h2M933 833.5h1M991 833.5h1M211 834.5h1M219 834.5h2M242 834.5h2M245 834.5h2M267 834.5h1M401 834.5h1M601 834.5h1M623 834.5h4M772 834.5h2M836 834.5h1M876 834.5h10M895 834.5h1M903 834.5h1M931 834.5h2M991 834.5h1M211 835.5h1M244 835.5h1M268 835.5h1M401 835.5h1M601 835.5h1M619 835.5h4M896 835.5h1M902 835.5h1M992 835.5h1M1156 835.5h1M211 836.5h1M269 836.5h2M401 836.5h1M601 836.5h1M617 836.5h2M897 836.5h1M902 836.5h1M992 836.5h1M1075 836.5h2M1155 836.5h1M1157 836.5h1M210 837.5h1M271 837.5h1M400 837.5h1M602 837.5h1M614 837.5h3M898 837.5h1M901 837.5h1M993 837.5h1M1071 837.5h4M1077 837.5h2M1154 837.5h1M1158 837.5h1M12 838.5h5M210 838.5h1M272 838.5h1M400 838.5h1M602 838.5h1M612 838.5h2M899 838.5h1M901 838.5h1M993 838.5h1M1067 838.5h4M1079 838.5h1M1153 838.5h1M1159 838.5h1M1315 838.5h2M11 839.5h1M17 839.5h4M209 839.5h1M273 839.5h2M399 839.5h1M602 839.5h1M611 839.5h1M900 839.5h1M994 839.5h1M1019 839.5h2M1065 839.5h2M1080 839.5h1M1152 839.5h1M1160 839.5h1M1193 839.5h6M1313 839.5h2M1316 839.5h1M10 840.5h1M21 840.5h1M209 840.5h1M275 840.5h1M399 840.5h1M603 840.5h1M610 840.5h1M994 840.5h1M1017 840.5h2M1020 840.5h1M1062 840.5h3M1081 840.5h2M1152 840.5h1M1160 840.5h1M1187 840.5h6M1199 840.5h4M1310 840.5h3M1317 840.5h1M9 841.5h1M22 841.5h1M209 841.5h1M276 841.5h9M399 841.5h1M603 841.5h1M609 841.5h1M995 841.5h1M1014 841.5h3M1021 841.5h1M1060 841.5h2M1083 841.5h1M1151 841.5h1M1161 841.5h1M1183 841.5h4M1203 841.5h2M1308 841.5h2M1317 841.5h1M7 842.5h2M23 842.5h1M208 842.5h1M285 842.5h1M307 842.5h3M398 842.5h1M603 842.5h1M607 842.5h2M995 842.5h1M1012 842.5h2M1021 842.5h1M1059 842.5h1M1084 842.5h1M1150 842.5h1M1162 842.5h1M1171 842.5h12M1204 842.5h1M1307 842.5h1M1318 842.5h1M6 843.5h1M24 843.5h1M208 843.5h1M286 843.5h1M303 843.5h4M310 843.5h3M398 843.5h1M603 843.5h1M606 843.5h1M996 843.5h1M1011 843.5h1M1022 843.5h1M1059 843.5h1M1084 843.5h1M1140 843.5h5M1149 843.5h1M1163 843.5h1M1167 843.5h4M1205 843.5h1M1306 843.5h1M1318 843.5h1M5 844.5h1M25 844.5h1M208 844.5h1M287 844.5h2M300 844.5h3M313 844.5h2M348 844.5h1M397 844.5h1M604 844.5h2M997 844.5h1M1011 844.5h1M1022 844.5h1M1058 844.5h1M1085 844.5h1M1138 844.5h2M1145 844.5h4M1164 844.5h3M1205 844.5h1M1305 844.5h1M1319 844.5h1M1 845.5h4M26 845.5h1M91 845.5h2M207 845.5h1M289 845.5h1M298 845.5h2M315 845.5h2M347 845.5h1M349 845.5h1M397 845.5h1M604 845.5h1M997 845.5h1M1010 845.5h1M1022 845.5h1M1058 845.5h1M1085 845.5h1M1137 845.5h1M1206 845.5h1M1291 845.5h2M1304 845.5h1M1319 845.5h1M0 846.5h1M27 846.5h1M87 846.5h4M93 846.5h2M180 846.5h11M207 846.5h1M290 846.5h1M296 846.5h2M317 846.5h1M346 846.5h1M350 846.5h1M396 846.5h1M998 846.5h1M1010 846.5h1M1023 846.5h1M1057 846.5h1M1086 846.5h1M1135 846.5h2M1206 846.5h1M1220 846.5h2M1287 846.5h4M1293 846.5h2M1304 846.5h1M1320 846.5h1M28 847.5h1M68 847.5h2M83 847.5h4M95 847.5h1M123 847.5h4M178 847.5h2M191 847.5h4M207 847.5h1M291 847.5h1M294 847.5h2M318 847.5h1M345 847.5h1M351 847.5h1M380 847.5h2M396 847.5h1M998 847.5h1M1009 847.5h1M1023 847.5h1M1056 847.5h1M1086 847.5h1M1133 847.5h2M1207 847.5h1M1219 847.5h1M1222 847.5h2M1284 847.5h3M1295 847.5h2M1303 847.5h1M1320 847.5h1M28 848.5h1M68 848.5h1M70 848.5h3M81 848.5h2M96 848.5h1M121 848.5h2M127 848.5h4M177 848.5h1M195 848.5h2M206 848.5h1M292 848.5h2M319 848.5h2M343 848.5h2M352 848.5h1M378 848.5h2M382 848.5h2M394 848.5h2M999 848.5h1M1009 848.5h1M1023 848.5h1M1056 848.5h1M1087 848.5h1M1132 848.5h1M1207 848.5h1M1219 848.5h1M1224 848.5h2M1283 848.5h1M1297 848.5h1M1302 848.5h1M1321 848.5h1M28 849.5h1M67 849.5h1M73 849.5h2M78 849.5h3M97 849.5h2M107 849.5h6M118 849.5h3M131 849.5h2M175 849.5h2M197 849.5h2M206 849.5h1M321 849.5h1M342 849.5h1M353 849.5h1M377 849.5h1M384 849.5h2M392 849.5h2M1000 849.5h1M1008 849.5h1M1024 849.5h1M1055 849.5h1M1087 849.5h1M1115 849.5h2M1131 849.5h1M1207 849.5h1M1218 849.5h1M1226 849.5h2M1282 849.5h1M1298 849.5h2M1301 849.5h1M1321 849.5h1M29 850.5h1M67 850.5h1M75 850.5h3M99 850.5h1M103 850.5h4M113 850.5h5M133 850.5h1M155 850.5h2M173 850.5h2M199 850.5h1M205 850.5h1M322 850.5h1M341 850.5h1M354 850.5h1M363 850.5h4M375 850.5h2M386 850.5h2M390 850.5h2M1000 850.5h1M1007 850.5h1M1024 850.5h1M1054 850.5h1M1088 850.5h1M1113 850.5h2M1117 850.5h1M1131 850.5h1M1208 850.5h1M1218 850.5h1M1228 850.5h1M1281 850.5h1M1300 850.5h1M1322 850.5h1M29 851.5h1M66 851.5h1M100 851.5h3M134 851.5h1M151 851.5h4M157 851.5h2M172 851.5h1M200 851.5h1M205 851.5h1M323 851.5h1M339 851.5h2M355 851.5h1M359 851.5h4M367 851.5h4M373 851.5h2M388 851.5h2M1001 851.5h1M1007 851.5h1M1025 851.5h1M1054 851.5h1M1088 851.5h1M1110 851.5h3M1117 851.5h1M1130 851.5h1M1208 851.5h1M1217 851.5h1M1229 851.5h1M1279 851.5h2M1322 851.5h1M29 852.5h1M66 852.5h1M135 852.5h2M148 852.5h3M159 852.5h1M170 852.5h2M201 852.5h2M205 852.5h1M324 852.5h3M337 852.5h2M356 852.5h3M371 852.5h2M1002 852.5h1M1006 852.5h1M1025 852.5h1M1053 852.5h1M1088 852.5h1M1108 852.5h2M1118 852.5h1M1129 852.5h1M1209 852.5h1M1217 852.5h1M1229 852.5h1M1278 852.5h1M1323 852.5h1M29 853.5h1M65 853.5h1M137 853.5h1M146 853.5h2M160 853.5h1M169 853.5h1M203 853.5h2M327 853.5h4M334 853.5h3M1002 853.5h1M1006 853.5h1M1025 853.5h1M1053 853.5h1M1089 853.5h1M1107 853.5h1M1119 853.5h1M1129 853.5h1M1209 853.5h1M1216 853.5h1M1230 853.5h1M1277 853.5h1M1323 853.5h1M30 854.5h1M65 854.5h1M138 854.5h1M144 854.5h2M161 854.5h2M167 854.5h2M204 854.5h1M331 854.5h3M1003 854.5h1M1005 854.5h1M1026 854.5h1M1044 854.5h9M1089 854.5h1M1106 854.5h1M1120 854.5h1M1128 854.5h1M1209 854.5h1M1215 854.5h1M1230 854.5h1M1276 854.5h1M1324 854.5h1M30 855.5h1M65 855.5h1M139 855.5h1M142 855.5h2M163 855.5h1M165 855.5h2M1003 855.5h1M1005 855.5h1M1026 855.5h1M1043 855.5h1M1090 855.5h1M1106 855.5h1M1120 855.5h1M1127 855.5h1M1210 855.5h1M1215 855.5h1M1231 855.5h1M1275 855.5h1M1325 855.5h2M30 856.5h1M64 856.5h1M140 856.5h2M164 856.5h1M1004 856.5h1M1026 856.5h1M1042 856.5h1M1090 856.5h1M1105 856.5h1M1121 856.5h1M1127 856.5h1M1210 856.5h1M1214 856.5h1M1231 856.5h1M1257 856.5h5M1273 856.5h2M1327 856.5h2M30 857.5h1M64 857.5h1M1027 857.5h1M1041 857.5h1M1091 857.5h1M1104 857.5h1M1122 857.5h1M1126 857.5h1M1211 857.5h1M1214 857.5h1M1232 857.5h1M1251 857.5h6M1262 857.5h2M1272 857.5h1M1329 857.5h1M31 858.5h1M63 858.5h1M1027 858.5h1M1040 858.5h1M1091 858.5h1M1103 858.5h1M1123 858.5h1M1125 858.5h1M1211 858.5h1M1213 858.5h1M1233 858.5h1M1249 858.5h2M1264 858.5h2M1271 858.5h1M1330 858.5h2M31 859.5h1M63 859.5h1M1028 859.5h1M1039 859.5h1M1092 859.5h1M1102 859.5h1M1123 859.5h1M1125 859.5h1M1212 859.5h2M1233 859.5h1M1246 859.5h3M1266 859.5h2M1269 859.5h2M1332 859.5h2M31 860.5h1M63 860.5h1M1028 860.5h3M1038 860.5h1M1092 860.5h3M1102 860.5h1M1124 860.5h1M1212 860.5h1M1234 860.5h1M1244 860.5h2M1268 860.5h1M1334 860.5h3M31 861.5h1M62 861.5h1M1031 861.5h4M1037 861.5h1M1095 861.5h4M1101 861.5h1M1234 861.5h1M1242 861.5h2M1337 861.5h2M32 862.5h1M62 862.5h1M1035 862.5h2M1099 862.5h2M1235 862.5h1M1240 862.5h2M1339 862.5h2M32 863.5h1M61 863.5h1M1235 863.5h1M1238 863.5h2M32 864.5h1M61 864.5h1M1236 864.5h2M32 865.5h1M60 865.5h1M33 866.5h1M60 866.5h1M33 867.5h1M60 867.5h1M33 868.5h1M59 868.5h1M33 869.5h1M59 869.5h1M34 870.5h1M58 870.5h1M34 871.5h1M58 871.5h1M34 872.5h1M57 872.5h1M34 873.5h1M57 873.5h1M35 874.5h1M56 874.5h1M35 875.5h1M56 875.5h1M35 876.5h1M56 876.5h1M35 877.5h1M55 877.5h1M36 878.5h1M55 878.5h1M36 879.5h1M54 879.5h1M36 880.5h10M54 880.5h1M46 881.5h2M53 881.5h1M48 882.5h2M53 882.5h1M50 883.5h3M52 884.5h1" fill="none" stroke="#1e90ff" stroke-width="1"/>
<rect x="0" y="28" width="1625" height="1" fill="#000"/>
<rect x="1624" y="28" width="1" height="901" fill="#000"/>
<rect x="0" y="581" width="1625" height="1" fill="#000"/>
<rect x="0" y="583" width="1625" height="1" fill="#000"/>
<rect x="0" y="766" width="1625" height="1" fill="#000"/>
<rect x="0" y="768" width="1625" height="1" fill="#000"/>
<rect x="0" y="928" width="1625" height="1" fill="#000"/>
<rect x="1624" y="100" width="1" height="2" fill="#ff0000"/>
<rect x="1624" y="121" width="1" height="2" fill="#ff0000"/>
<rect x="1624" y="143" width="1" height="2" fill="#32cd32"/>
<rect x="1624" y="175" width="1" height="2" fill="#0000ff"/>
<rect x="1624" y="197" width="1" height="2" fill="#0000ff"/>
<rect x="1625" y="50" width="2" height="1" fill="#000"/>
<text transform="translate(1630,54) scale(0.9062,1.0)" xml:space="preserve" style="text-rendering:geometricPrecision" font-family="Liberation Sans, sans-serif" font-size="10" fill="#000" stroke="#000" stroke-width="0.15" shape-rendering="auto">22098.0</text>
<rect x="1625" y="83" width="2" height="1" fill="#000"/>
<text transform="translate(1630,87) scale(0.9062,1.0)" xml:space="preserve" style="text-rendering:geometricPrecision" font-family="Liberation Sans, sans-serif" font-size="10" fill="#000" stroke="#000" stroke-width="0.15" shape-rendering="auto">21966.0</text>
<rect x="1625" y="116" width="2" height="1" fill="#000"/>
<text transform="translate(1630,120) scale(0.9062,1.0)" xml:space="preserve" style="text-rendering:geometricPrecision" font-family="Liberation Sans, sans-serif" font-size="10" fill="#000" stroke="#000" stroke-width="0.15" shape-rendering="auto">21830.0</text>
<rect x="1625" y="149" width="2" height="1" fill="#000"/>
<text transform="translate(1630,153) scale(0.9062,1.0)" xml:space="preserve" style="text-rendering:geometricPrecision" font-family="Liberation Sans, sans-serif" font-size="10" fill="#000" stroke="#000" stroke-width="0.15" shape-rendering="auto">21698.0</text>
<rect x="1625" y="182" width="2" height="1" fill="#000"/>
<text transform="translate(1630,186) scale(0.9062,1.0)" xml:space="preserve" style="text-rendering:geometricPrecision" font-family="Liberation Sans, sans-serif" font-size="10" fill="#000" stroke="#000" stroke-width="0.15" shape-rendering="auto">21566.0</text>
<rect x="1625" y="215" width="2" height="1" fill="#000"/>
<text transform="translate(1630,219) scale(0.9062,1.0)" xml:space="preserve" style="text-rendering:geometricPrecision" font-family="Liberation Sans, sans-serif" font-size="10" fill="#000" stroke="#000" stroke-width="0.15" shape-rendering="auto">21430.0</text>
<rect x="1625" y="248" width="2" height="1" fill="#000"/>
<text transform="translate(1630,252) scale(0.9062,1.0)" xml:space="preserve" style="text-rendering:geometricPrecision" font-family="Liberation Sans, sans-serif" font-size="10" fill="#000" stroke="#000" stroke-width="0.15" shape-rendering="auto">21298.0</text>
<rect x="1625" y="281" width="2" height="1" fill="#000"/>
<text transform="translate(1630,285) scale(0.9062,1.0)" xml:space="preserve" style="text-rendering:geometricPrecision" font-family="Liberation Sans, sans-serif" font-size="10" fill="#000" stroke="#000" stroke-width="0.15" shape-rendering="auto">21162.0</text>
<rect x="1625" y="314" width="2" height="1" fill="#000"/>
<text transform="translate(1630,318) scale(0.9062,1.0)" xml:space="preserve" style="text-rendering:geometricPrecision" font-family="Liberation Sans, sans-serif" font-size="10" fill="#000" stroke="#000" stroke-width="0.15" shape-rendering="auto">21030.0</text>
<rect x="1625" y="347" width="2" height="1" fill="#000"/>
<text transform="translate(1630,351) scale(0.9062,1.0)" xml:space="preserve" style="text-rendering:geometricPrecision" font-family="Liberation Sans, sans-serif" font-size="10" fill="#000" stroke="#000" stroke-width="0.15" shape-rendering="auto">20894.0</text>
<rect x="1625" y="380" width="2" height="1" fill="#000"/>
<text transform="translate(1630,384) scale(0.9062,1.0)" xml:space="preserve" style="text-rendering:geometricPrecision" font-family="Liberation Sans, sans-serif" font-size="10" fill="#000" stroke="#000" stroke-width="0.15" shape-rendering="auto">20762.0</text>
<rect x="1625" y="413" width="2" height="1" fill="#000"/>
<text transform="translate(1630,417) scale(0.9062,1.0)" xml:space="preserve" style="text-rendering:geometricPrecision" font-family="Liberation Sans, sans-serif" font-size="10" fill="#000" stroke="#000" stroke-width="0.15" shape-rendering="auto">20630.0</text>
<rect x="1625" y="446" width="2" height="1" fill="#000"/>
<text transform="translate(1630,450) scale(0.9062,1.0)" xml:space="preserve" style="text-rendering:geometricPrecision" font-family="Liberation Sans, sans-serif" font-size="10" fill="#000" stroke="#000" stroke-width="0.15" shape-rendering="auto">20494.0</text>
<rect x="1625" y="479" width="2" height="1" fill="#000"/>
<text transform="translate(1630,483) scale(0.9062,1.0)" xml:space="preserve" style="text-rendering:geometricPrecision" font-family="Liberation Sans, sans-serif" font-size="10" fill="#000" stroke="#000" stroke-width="0.15" shape-rendering="auto">20362.0</text>
<rect x="1625" y="512" width="2" height="1" fill="#000"/>
<text transform="translate(1630,516) scale(0.9062,1.0)" xml:space="preserve" style="text-rendering:geometricPrecision" font-family="Liberation Sans, sans-serif" font-size="10" fill="#000" stroke="#000" stroke-width="0.15" shape-rendering="auto">20226.0</text>
<rect x="1625" y="545" width="2" height="1" fill="#000"/>
<text transform="translate(1630,549) scale(0.9062,1.0)" xml:space="preserve" style="text-rendering:geometricPrecision" font-family="Liberation Sans, sans-serif" font-size="10" fill="#000" stroke="#000" stroke-width="0.15" shape-rendering="auto">20094.0</text>
<rect x="1625" y="578" width="2" height="1" fill="#000"/>
<text transform="translate(1630,582) scale(0.9062,1.0)" xml:space="preserve" style="text-rendering:geometricPrecision" font-family="Liberation Sans, sans-serif" font-size="10" fill="#000" stroke="#000" stroke-width="0.15" shape-rendering="auto">19962.0</text>
<rect x="1625" y="585" width="1" height="1" fill="#000"/>
<text transform="translate(1628,594) scale(0.9062,1.0)" xml:space="preserve" style="text-rendering:geometricPrecision" font-family="Liberation Sans, sans-serif" font-size="10" fill="#000" stroke="#000" stroke-width="0.15" shape-rendering="auto">184.79</text>
<rect x="1625" y="708" width="1" height="1" fill="#000"/>
<text transform="translate(1628,712) scale(0.9062,1.0)" xml:space="preserve" style="text-rendering:geometricPrecision" font-family="Liberation Sans, sans-serif" font-size="10" fill="#000" stroke="#000" stroke-width="0.15" shape-rendering="auto">0.00</text>
<rect x="1625" y="765" width="1" height="1" fill="#000"/>
<text transform="translate(1628,763) scale(0.9062,1.0)" xml:space="preserve" style="text-rendering:geometricPrecision" font-family="Liberation Sans, sans-serif" font-size="10" fill="#000" stroke="#000" stroke-width="0.15" shape-rendering="auto">-85.82</text>
<rect x="1625" y="770" width="1" height="1" fill="#000"/>
<text transform="translate(1628,779) scale(0.9062,1.0)" xml:space="preserve" style="text-rendering:geometricPrecision" font-family="Liberation Sans, sans-serif" font-size="10" fill="#000" stroke="#000" stroke-width="0.15" shape-rendering="auto">100</text>
<text transform="translate(1628,805) scale(0.9062,1.0)" xml:space="preserve" style="text-rendering:geometricPrecision" font-family="Liberation Sans, sans-serif" font-size="10" fill="#000" stroke="#000" stroke-width="0.15" shape-rendering="auto">80</text>
<text transform="translate(1628,852) scale(0.9062,1.0)" xml:space="preserve" style="text-rendering:geometricPrecision" font-family="Liberation Sans, sans-serif" font-size="10" fill="#000" stroke="#000" stroke-width="0.15" shape-rendering="auto">50</text>
<text transform="translate(1628,908) scale(0.9062,1.0)" xml:space="preserve" style="text-rendering:geometricPrecision" font-family="Liberation Sans, sans-serif" font-size="10" fill="#000" stroke="#000" stroke-width="0.15" shape-rendering="auto">15</text>
<rect x="1625" y="928" width="1" height="1" fill="#000"/>
<text transform="translate(1628,925) scale(0.9062,1.0)" xml:space="preserve" style="text-rendering:geometricPrecision" font-family="Liberation Sans, sans-serif" font-size="10" fill="#000" stroke="#000" stroke-width="0.15" shape-rendering="auto">0</text>
<rect x="1626" y="95" width="41" height="11" fill="#ff0000"/>
<text transform="translate(1630.5,104) scale(0.9062,1.0)" xml:space="preserve" style="text-rendering:geometricPrecision" font-family="Liberation Sans, sans-serif" font-size="10" fill="#fff" stroke="#fff" stroke-width="0.15" shape-rendering="auto">21890.9</text>
<rect x="1626" y="116" width="41" height="11" fill="#ff0000"/>
<text transform="translate(1630.5,125) scale(0.9062,1.0)" xml:space="preserve" style="text-rendering:geometricPrecision" font-family="Liberation Sans, sans-serif" font-size="10" fill="#fff" stroke="#fff" stroke-width="0.15" shape-rendering="auto">21806.0</text>
<rect x="1626" y="138" width="41" height="11" fill="#32cd32"/>
<text transform="translate(1630.5,147) scale(0.9062,1.0)" xml:space="preserve" style="text-rendering:geometricPrecision" font-family="Liberation Sans, sans-serif" font-size="10" fill="#fff" stroke="#fff" stroke-width="0.15" shape-rendering="auto">21717.0</text>
<rect x="1626" y="153" width="41" height="11" fill="#000000"/>
<text transform="translate(1630.5,162) scale(0.9062,1.0)" xml:space="preserve" style="text-rendering:geometricPrecision" font-family="Liberation Sans, sans-serif" font-size="10" fill="#fff" stroke="#fff" stroke-width="0.15" shape-rendering="auto">21660.0</text>
<rect x="1626" y="170" width="41" height="11" fill="#0000ff"/>
<text transform="translate(1630.5,179) scale(0.9062,1.0)" xml:space="preserve" style="text-rendering:geometricPrecision" font-family="Liberation Sans, sans-serif" font-size="10" fill="#fff" stroke="#fff" stroke-width="0.15" shape-rendering="auto">21587.6</text>
<rect x="1626" y="192" width="41" height="11" fill="#0000ff"/>
<text transform="translate(1630.5,201) scale(0.9062,1.0)" xml:space="preserve" style="text-rendering:geometricPrecision" font-family="Liberation Sans, sans-serif" font-size="10" fill="#fff" stroke="#fff" stroke-width="0.15" shape-rendering="auto">21498.7</text>
<text transform="translate(-5,941) scale(0.9568000000000001,1.0)" xml:space="preserve" style="text-rendering:geometricPrecision" font-family="Liberation Sans, sans-serif" font-size="10" fill="#000" stroke="#000" stroke-width="0.15" shape-rendering="auto">22 Aug 2019</text>
<rect x="60" y="929" width="1" height="3" fill="#000"/>
<text transform="translate(59,941) scale(0.9568000000000001,1.0)" xml:space="preserve" style="text-rendering:geometricPrecision" font-family="Liberation Sans, sans-serif" font-size="10" fill="#000" stroke="#000" stroke-width="0.15" shape-rendering="auto">26 Aug 00:00</text>
<rect x="124" y="929" width="1" height="3" fill="#000"/>
<text transform="translate(123,941) scale(0.9568000000000001,1.0)" xml:space="preserve" style="text-rendering:geometricPrecision" font-family="Liberation Sans, sans-serif" font-size="10" fill="#000" stroke="#000" stroke-width="0.15" shape-rendering="auto">27 Aug 10:55</text>
<rect x="188" y="929" width="1" height="3" fill="#000"/>
<text transform="translate(187,941) scale(0.9568000000000001,1.0)" xml:space="preserve" style="text-rendering:geometricPrecision" font-family="Liberation Sans, sans-serif" font-size="10" fill="#000" stroke="#000" stroke-width="0.15" shape-rendering="auto">28 Aug 18:55</text>
<rect x="252" y="929" width="1" height="3" fill="#000"/>
<text transform="translate(251,941) scale(0.9568000000000001,1.0)" xml:space="preserve" style="text-rendering:geometricPrecision" font-family="Liberation Sans, sans-serif" font-size="10" fill="#000" stroke="#000" stroke-width="0.15" shape-rendering="auto">30 Aug 00:00</text>
<rect x="316" y="929" width="1" height="3" fill="#000"/>
<text transform="translate(315,941) scale(0.9568000000000001,1.0)" xml:space="preserve" style="text-rendering:geometricPrecision" font-family="Liberation Sans, sans-serif" font-size="10" fill="#000" stroke="#000" stroke-width="0.15" shape-rendering="auto">2 Sep 10:55</text>
<rect x="380" y="929" width="1" height="3" fill="#000"/>
<text transform="translate(379,941) scale(0.9568000000000001,1.0)" xml:space="preserve" style="text-rendering:geometricPrecision" font-family="Liberation Sans, sans-serif" font-size="10" fill="#000" stroke="#000" stroke-width="0.15" shape-rendering="auto">3 Sep 18:55</text>
<rect x="444" y="929" width="1" height="3" fill="#000"/>
<text transform="translate(443,941) scale(0.9568000000000001,1.0)" xml:space="preserve" style="text-rendering:geometricPrecision" font-family="Liberation Sans, sans-serif" font-size="10" fill="#000" stroke="#000" stroke-width="0.15" shape-rendering="auto">5 Sep 00:00</text>
<rect x="508" y="929" width="1" height="3" fill="#000"/>
<text transform="translate(507,941) scale(0.9568000000000001,1.0)" xml:space="preserve" style="text-rendering:geometricPrecision" font-family="Liberation Sans, sans-serif" font-size="10" fill="#000" stroke="#000" stroke-width="0.15" shape-rendering="auto">6 Sep 10:55</text>
<rect x="572" y="929" width="1" height="3" fill="#000"/>
<text transform="translate(571,941) scale(0.9568000000000001,1.0)" xml:space="preserve" style="text-rendering:geometricPrecision" font-family="Liberation Sans, sans-serif" font-size="10" fill="#000" stroke="#000" stroke-width="0.15" shape-rendering="auto">9 Sep 18:55</text>
<rect x="636" y="929" width="1" height="3" fill="#000"/>
<text transform="translate(635,941) scale(0.9568000000000001,1.0)" xml:space="preserve" style="text-rendering:geometricPrecision" font-family="Liberation Sans, sans-serif" font-size="10" fill="#000" stroke="#000" stroke-width="0.15" shape-rendering="auto">11 Sep 00:00</text>
<rect x="700" y="929" width="1" height="3" fill="#000"/>
<text transform="translate(699,941) scale(0.9568000000000001,1.0)" xml:space="preserve" style="text-rendering:geometricPrecision" font-family="Liberation Sans, sans-serif" font-size="10" fill="#000" stroke="#000" stroke-width="0.15" shape-rendering="auto">12 Sep 10:55</text>
<rect x="764" y="929" width="1" height="3" fill="#000"/>
<text transform="translate(763,941) scale(0.9568000000000001,1.0)" xml:space="preserve" style="text-rendering:geometricPrecision" font-family="Liberation Sans, sans-serif" font-size="10" fill="#000" stroke="#000" stroke-width="0.15" shape-rendering="auto">13 Sep 18:55</text>
<rect x="828" y="929" width="1" height="3" fill="#000"/>
<text transform="translate(827,941) scale(0.9568000000000001,1.0)" xml:space="preserve" style="text-rendering:geometricPrecision" font-family="Liberation Sans, sans-serif" font-size="10" fill="#000" stroke="#000" stroke-width="0.15" shape-rendering="auto">17 Sep 00:00</text>
<rect x="892" y="929" width="1" height="3" fill="#000"/>
<text transform="translate(891,941) scale(0.9568000000000001,1.0)" xml:space="preserve" style="text-rendering:geometricPrecision" font-family="Liberation Sans, sans-serif" font-size="10" fill="#000" stroke="#000" stroke-width="0.15" shape-rendering="auto">18 Sep 10:55</text>
<rect x="956" y="929" width="1" height="3" fill="#000"/>
<text transform="translate(955,941) scale(0.9568000000000001,1.0)" xml:space="preserve" style="text-rendering:geometricPrecision" font-family="Liberation Sans, sans-serif" font-size="10" fill="#000" stroke="#000" stroke-width="0.15" shape-rendering="auto">19 Sep 18:55</text>
<rect x="1020" y="929" width="1" height="3" fill="#000"/>
<text transform="translate(1019,941) scale(0.9568000000000001,1.0)" xml:space="preserve" style="text-rendering:geometricPrecision" font-family="Liberation Sans, sans-serif" font-size="10" fill="#000" stroke="#000" stroke-width="0.15" shape-rendering="auto">23 Sep 00:00</text>
<rect x="1084" y="929" width="1" height="3" fill="#000"/>
<text transform="translate(1083,941) scale(0.9568000000000001,1.0)" xml:space="preserve" style="text-rendering:geometricPrecision" font-family="Liberation Sans, sans-serif" font-size="10" fill="#000" stroke="#000" stroke-width="0.15" shape-rendering="auto">24 Sep 10:55</text>
<rect x="1148" y="929" width="1" height="3" fill="#000"/>
<text transform="translate(1147,941) scale(0.9568000000000001,1.0)" xml:space="preserve" style="text-rendering:geometricPrecision" font-family="Liberation Sans, sans-serif" font-size="10" fill="#000" stroke="#000" stroke-width="0.15" shape-rendering="auto">25 Sep 18:55</text>
<rect x="1212" y="929" width="1" height="3" fill="#000"/>
<text transform="translate(1211,941) scale(0.9568000000000001,1.0)" xml:space="preserve" style="text-rendering:geometricPrecision" font-family="Liberation Sans, sans-serif" font-size="10" fill="#000" stroke="#000" stroke-width="0.15" shape-rendering="auto">27 Sep 00:00</text>
<rect x="1276" y="929" width="1" height="3" fill="#000"/>
<text transform="translate(1275,941) scale(0.9568000000000001,1.0)" xml:space="preserve" style="text-rendering:geometricPrecision" font-family="Liberation Sans, sans-serif" font-size="10" fill="#000" stroke="#000" stroke-width="0.15" shape-rendering="auto">30 Sep 10:55</text>
<rect x="1340" y="929" width="1" height="3" fill="#000"/>
<text transform="translate(1339,941) scale(0.9568000000000001,1.0)" xml:space="preserve" style="text-rendering:geometricPrecision" font-family="Liberation Sans, sans-serif" font-size="10" fill="#000" stroke="#000" stroke-width="0.15" shape-rendering="auto">1 Oct 18:55</text>
<text transform="translate(1,596) scale(0.9347200000000001,1.0)" xml:space="preserve" style="text-rendering:geometricPrecision" font-family="Liberation Sans, sans-serif" font-size="10" fill="#000" stroke="#000" stroke-width="0.15" shape-rendering="auto">MACD(12,26,9) -22.70 -13.79</text>
<text transform="translate(1,781) scale(0.9062,1.0)" xml:space="preserve" style="text-rendering:geometricPrecision" font-family="Liberation Sans, sans-serif" font-size="10" fill="#000" stroke="#000" stroke-width="0.15" shape-rendering="auto">RSI(14) 41.9090</text>
<polygon points="0,40 6,40 3,36" fill="#000" shape-rendering="auto"/>
<text transform="translate(11,40) scale(0.92552,1.0)" xml:space="preserve" style="text-rendering:geometricPrecision" font-family="Liberation Sans, sans-serif" font-size="10" fill="#000" stroke="#000" stroke-width="0.15" shape-rendering="auto">JPN225-,H4  21687.5 21702.5 21657.5 21660.0</text>
<rect x="1469" y="144" width="8" height="1" fill="#ff0000"/>
<rect x="1476.5" y="142.5" width="3" height="3" fill="#fff" stroke="#ff0000" stroke-width="1"/>
<rect x="1479.5" y="128.5" width="99" height="32" fill="#fff" stroke="#ff0000" stroke-width="1"/>
<text transform="translate(1480.6,155.3) scale(1.012,1.08)" font-family="Liberation Sans, sans-serif" font-size="26.67" fill="#ff0000" shape-rendering="auto">21717.0</text>
<text transform="translate(1406.3,252.6) scale(1.02,0.94)" font-family="Liberation Serif, Noto Serif CJK SC, serif" font-weight="500" font-size="32" fill="#1a3a1a" stroke="#1a3a1a" stroke-width="0.5" shape-rendering="auto">多空转折点</text>
<text transform="translate(1405.3,251.6) scale(1.02,0.94)" font-family="Liberation Serif, Noto Serif CJK SC, serif" font-weight="500" font-size="32" fill="#00ff00" stroke="#00ff00" stroke-width="0.5" shape-rendering="auto">多空转折点</text>
</svg>
<div id="tb"><svg width="1671" height="24" viewBox="0 0 1671 24" style="position:absolute;left:0;top:0">
<defs><pattern id="chk" width="2" height="2" patternUnits="userSpaceOnUse"><rect width="2" height="2" fill="#fff"/><rect width="1" height="1" fill="#ececec"/><rect x="1" y="1" width="1" height="1" fill="#ececec"/></pattern>
<linearGradient id="gy" x1="0" y1="0" x2="1" y2="1"><stop offset="0" stop-color="#ffe066"/><stop offset="1" stop-color="#c98a10"/></linearGradient>
<linearGradient id="gb" x1="0" y1="0" x2="0" y2="1"><stop offset="0" stop-color="#4aa3f0"/><stop offset="1" stop-color="#1456b8"/></linearGradient>
<linearGradient id="gg" x1="0" y1="0" x2="0" y2="1"><stop offset="0" stop-color="#7af27a"/><stop offset="1" stop-color="#12b812"/></linearGradient>
<radialGradient id="lens" cx="0.4" cy="0.35" r="0.7"><stop offset="0" stop-color="#f4fbff"/><stop offset="1" stop-color="#a8d4f2"/></radialGradient>
</defs>
<path d="M-3,4.5 H3.5 L6.5,7.5 V15.5 H-3 Z" fill="#fff" stroke="#9a9a9a" stroke-width="1"/><path d="M3.5,4.5 V7.5 H6.5" fill="#e8e8e8" stroke="#9a9a9a" stroke-width="1"/><rect x="-2" y="11" width="4" height="1" fill="#999"/>
<g shape-rendering="crispEdges"><rect x="3" y="11" width="5" height="11" fill="#0a960a"/><rect x="0" y="14" width="11" height="5" fill="#0a960a"/><rect x="4" y="12" width="3" height="9" fill="#3fe43f"/><rect x="1" y="15" width="9" height="3" fill="#3fe43f"/><rect x="4" y="12" width="1" height="9" fill="#8af58a"/><rect x="1" y="15" width="9" height="1" fill="#8af58a"/></g>
<text x="14" y="14.5" font-family="Liberation Sans, Noto Sans CJK SC, sans-serif" font-size="12" fill="#000">新订单</text>
<path d="M62.300,13.600 L67.500,5.300 L77.800,12.300 L77.800,14.500 L70.300,19.600 Z" fill="url(#gy)" stroke="#a86a08" stroke-width="1"/><path d="M62.300,13.600 L70.300,17.300 L77.800,12.300" fill="none" stroke="#a86a08" stroke-width="0.800"/>
<polygon points="92.300,5.400 95,6.800 95,15 92.300,13.600" fill="#c4e6ff"/><polygon points="95,6.800 103.400,5.600 103.400,14.500 95,15" fill="url(#gb)"/><polygon points="92.300,5.400 101,4.300 103.400,5.600 95,6.800" fill="#8ccaff"/><rect x="96.500" y="9" width="5.500" height="1.300" fill="#d8efff"/>
<path d="M92.500,19.500 C89.300,19.500 89.300,15.300 92.600,15.300 C93,12.600 97,12.200 98.300,14.300 C100,12.800 103.600,13.400 103.600,15.600 C106.600,15.600 106.600,19.500 103.800,19.500 Z" fill="#e9f0fa" stroke="#7f9fd2" stroke-width="0.900"/><path d="M91,18.300 H105" stroke="#b4c8e6" stroke-width="1.200"/>
<circle cx="126" cy="12" r="7.3" fill="none" stroke="#9db9e8" stroke-width="1.2"/><circle cx="126" cy="12" r="4.6" fill="none" stroke="#5a86d8" stroke-width="1.4"/><path d="M126,12 L126,19.500 A7.500,7.500 0 0 0 133.500,12 Z" fill="#6fbf6f" opacity="0.55"/><circle cx="126" cy="11.500" r="1.800" fill="#2a55c8"/><rect x="125.300" y="12" width="1.600" height="8" fill="#28a428"/>
<path d="M146,10 L161,10 L153,19.500 Z" fill="#ffd84a" stroke="#d8a010" stroke-width="0.8"/><ellipse cx="153.500" cy="9" rx="8" ry="2.600" fill="#4a98d0"/><path d="M149,8.500 C149,3.500 158,3.500 158,8.500 Z" fill="#6ab4e4"/>
<circle cx="157.500" cy="15.500" r="4.300" fill="#e02818"/><rect x="155.800" y="13.800" width="3.400" height="3.400" fill="#fff"/>
<text x="166.500" y="14.500" font-family="Liberation Sans, Noto Sans CJK SC, sans-serif" font-size="12" fill="#000">自动交易</text>
<rect x="221" y="0" width="1" height="24" fill="#a0a0a0" shape-rendering="crispEdges"/>
<rect x="222" y="0" width="1" height="24" fill="#fff" shape-rendering="crispEdges"/>
<rect x="225" y="2" width="3" height="1" fill="#a9a9a9" shape-rendering="crispEdges"/>
<rect x="225" y="4" width="3" height="1" fill="#a9a9a9" shape-rendering="crispEdges"/>
<rect x="225" y="6" width="3" height="1" fill="#a9a9a9" shape-rendering="crispEdges"/>
<rect x="225" y="8" width="3" height="1" fill="#a9a9a9" shape-rendering="crispEdges"/>
<rect x="225" y="10" width="3" height="1" fill="#a9a9a9" shape-rendering="crispEdges"/>
<rect x="225" y="12" width="3" height="1" fill="#a9a9a9" shape-rendering="crispEdges"/>
<rect x="225" y="14" width="3" height="1" fill="#a9a9a9" shape-rendering="crispEdges"/>
<rect x="225" y="16" width="3" height="1" fill="#a9a9a9" shape-rendering="crispEdges"/>
<rect x="225" y="18" width="3" height="1" fill="#a9a9a9" shape-rendering="crispEdges"/>
<rect x="225" y="20" width="3" height="1" fill="#a9a9a9" shape-rendering="crispEdges"/>
<g stroke="#555" stroke-width="1.2" fill="none"><path d="M239.5,6.5 V20"/><path d="M237,17.5 H250"/></g>
<polygon points="239.5,5.5 237.7,8 241.3,8" fill="#555"/><polygon points="251.2,17.5 248.7,15.7 248.7,19.3" fill="#555"/>
<path d="M246.500,7 V16 M246.500,8.500 H249 M244,14.500 H246.500" stroke="#0a8a0a" stroke-width="1.500" fill="none"/>
<rect x="259" y="0" width="25" height="22" fill="url(#chk)" shape-rendering="crispEdges"/>
<rect x="259" y="0" width="25" height="1" fill="#a0a0a0" shape-rendering="crispEdges"/>
<rect x="259" y="0" width="1" height="22" fill="#a0a0a0" shape-rendering="crispEdges"/>
<rect x="284" y="0" width="1" height="23" fill="#fff" shape-rendering="crispEdges"/>
<rect x="259" y="22" width="25" height="1" fill="#fff" shape-rendering="crispEdges"/>
<g stroke="#555" stroke-width="1.2" fill="none"><path d="M267.5,6.5 V20"/><path d="M265,17.5 H278"/></g>
<polygon points="267.5,5.5 265.7,8 269.3,8" fill="#555"/><polygon points="279.2,17.5 276.7,15.7 276.7,19.3" fill="#555"/>
<rect x="273" y="4" width="1" height="12" fill="#0a8a0a" shape-rendering="crispEdges"/><rect x="271.500" y="6.500" width="4" height="7" fill="#4fe84f" stroke="#0a8a0a" stroke-width="1"/>
<g stroke="#555" stroke-width="1.2" fill="none"><path d="M295.5,6.5 V20"/><path d="M293,17.5 H306"/></g>
<polygon points="295.5,5.5 293.7,8 297.3,8" fill="#555"/><polygon points="307.2,17.5 304.7,15.7 304.7,19.3" fill="#555"/>
<path d="M294.500,15 C297,12 299,8.500 301,9.500 C303,10.500 304,13 306,13" stroke="#2a9a2a" stroke-width="1.200" fill="none"/>
<rect x="316" y="1" width="1" height="21" fill="#a0a0a0" shape-rendering="crispEdges"/>
<path d="M335,14 L339.8,18.8" stroke="#b8860b" stroke-width="3" stroke-linecap="round"/><path d="M335.2,14.2 L339.8,18.6" stroke="#f0d050" stroke-width="1.400" stroke-linecap="round"/>
<circle cx="331" cy="10" r="5.500" fill="url(#lens)" stroke="#3f7fd6" stroke-width="1.200"/>
<rect x="328" y="9.200" width="6" height="1.700" fill="#3a88b8"/>
<rect x="330.15" y="7" width="1.700" height="6" fill="#3a88b8"/>
<path d="M363,14 L367.8,18.8" stroke="#b8860b" stroke-width="3" stroke-linecap="round"/><path d="M363.2,14.2 L367.8,18.6" stroke="#f0d050" stroke-width="1.400" stroke-linecap="round"/>
<circle cx="359" cy="10" r="5.500" fill="url(#lens)" stroke="#3f7fd6" stroke-width="1.200"/>
<rect x="356" y="9.200" width="6" height="1.700" fill="#3a88b8"/>
<rect x="381" y="4" width="8" height="8" fill="#3aa82a"/><rect x="382.5" y="7.5" width="5" height="3" fill="#fff"/><rect x="383.5" y="8.5" width="3" height="1" fill="#7ed06a"/><rect x="382" y="5" width="1" height="1" fill="#fff"/>
<rect x="389" y="4" width="8" height="8" fill="#2a58d8"/><rect x="390.5" y="7.5" width="5" height="3" fill="#fff"/><rect x="391.5" y="8.5" width="3" height="1" fill="#7aa8f8"/><rect x="390" y="5" width="1" height="1" fill="#fff"/>
<rect x="381" y="12" width="8" height="8" fill="#2a58d8"/><rect x="382.5" y="15.5" width="5" height="3" fill="#fff"/><rect x="383.5" y="16.5" width="3" height="1" fill="#7aa8f8"/><rect x="382" y="13" width="1" height="1" fill="#fff"/>
<rect x="389" y="12" width="8" height="8" fill="#3aa82a"/><rect x="390.5" y="15.5" width="5" height="3" fill="#fff"/><rect x="391.5" y="16.5" width="3" height="1" fill="#7ed06a"/><rect x="390" y="13" width="1" height="1" fill="#fff"/>
<rect x="406" y="1" width="1" height="21" fill="#a0a0a0" shape-rendering="crispEdges"/>
<rect x="411" y="0" width="25" height="22" fill="url(#chk)" shape-rendering="crispEdges"/>
<rect x="411" y="0" width="25" height="1" fill="#a0a0a0" shape-rendering="crispEdges"/>
<rect x="411" y="0" width="1" height="22" fill="#a0a0a0" shape-rendering="crispEdges"/>
<rect x="436" y="0" width="1" height="23" fill="#fff" shape-rendering="crispEdges"/>
<rect x="411" y="22" width="25" height="1" fill="#fff" shape-rendering="crispEdges"/>
<g stroke="#555" stroke-width="1.2" fill="none"><path d="M419.5,6.5 V20"/><path d="M417,17.5 H430"/></g>
<polygon points="419.5,5.5 417.7,8 421.3,8" fill="#555"/><polygon points="431.2,17.5 428.7,15.7 428.7,19.3" fill="#555"/>
<polygon points="424,8 424,15 428,11.500" fill="#3ddc3d" stroke="#0a8a0a" stroke-width="0.800"/>
<rect x="439" y="0" width="25" height="22" fill="url(#chk)" shape-rendering="crispEdges"/>
<rect x="439" y="0" width="25" height="1" fill="#a0a0a0" shape-rendering="crispEdges"/>
<rect x="439" y="0" width="1" height="22" fill="#a0a0a0" shape-rendering="crispEdges"/>
<rect x="464" y="0" width="1" height="23" fill="#fff" shape-rendering="crispEdges"/>
<rect x="439" y="22" width="25" height="1" fill="#fff" shape-rendering="crispEdges"/>
<g stroke="#555" stroke-width="1.2" fill="none"><path d="M447.5,6.5 V20"/><path d="M445,17.5 H458"/></g>
<polygon points="447.5,5.5 445.7,8 449.3,8" fill="#555"/><polygon points="459.2,17.5 456.7,15.7 456.7,19.3" fill="#555"/>
<rect x="452.700" y="6" width="1.300" height="10" fill="#1a6aa8"/><path d="M459,11.500 H455.500 M457.500,9.500 L455,11.500 L457.500,13.500" stroke="#d84a10" stroke-width="1.300" fill="none"/>
<rect x="468" y="1" width="1" height="21" fill="#a0a0a0" shape-rendering="crispEdges"/>
<path d="M478.500,4.500 H486 L489.500,8 V17.500 H478.500 Z" fill="#fbfbfb" stroke="#a8a8a8" stroke-width="1"/><path d="M486,4.500 V8 H489.500" fill="#e4e4e4" stroke="#a8a8a8" stroke-width="1"/><text x="480.500" y="15" font-family="Liberation Serif, serif" font-style="italic" font-size="10" fill="#444">f</text>
<g shape-rendering="crispEdges"><rect x="485" y="10" width="5" height="12" fill="#0a960a"/><rect x="482" y="14" width="12" height="5" fill="#0a960a"/><rect x="486" y="11" width="3" height="10" fill="#3fe43f"/><rect x="483" y="15" width="10" height="3" fill="#3fe43f"/><rect x="486" y="11" width="1" height="10" fill="#8af58a"/><rect x="483" y="15" width="10" height="1" fill="#8af58a"/></g>
<polygon points="500,11 506,11 503,14" fill="#000"/>
<circle cx="524" cy="12" r="7" fill="#fff" stroke="url(#gb)" stroke-width="2.400"/><path d="M524,7.500 V12 H527.500" stroke="#333" stroke-width="1.200" fill="none"/><circle cx="524" cy="12" r="5.500" fill="none" stroke="#c8d8e8" stroke-width="0.600" stroke-dasharray="0.800 2.080"/>
<polygon points="539,11 545,11 542,14" fill="#000"/>
<rect x="555.500" y="5.500" width="15" height="13" fill="#fff" stroke="#2a68c8" stroke-width="1"/><rect x="556" y="6" width="14" height="2" fill="#5a9ae8"/><rect x="556" y="12" width="14" height="1" fill="#2a68c8"/><path d="M557.500,11 L560,10 L562,9 L564,10 L566,10 L568.500,9" stroke="#a82a1a" stroke-width="1.200" fill="none"/><path d="M558,16.500 L560.500,16 L562.500,15 L564.500,16 L566.500,14.500 L568.500,16.500" stroke="#1a9a3a" stroke-width="1.200" fill="none"/>
<polygon points="578,11 584,11 581,14" fill="#000"/>
<rect x="589" y="0" width="1" height="24" fill="#a0a0a0" shape-rendering="crispEdges"/>
<rect x="590" y="0" width="1" height="24" fill="#fff" shape-rendering="crispEdges"/>
<rect x="593" y="2" width="3" height="1" fill="#a9a9a9" shape-rendering="crispEdges"/>
<rect x="593" y="4" width="3" height="1" fill="#a9a9a9" shape-rendering="crispEdges"/>
<rect x="593" y="6" width="3" height="1" fill="#a9a9a9" shape-rendering="crispEdges"/>
<rect x="593" y="8" width="3" height="1" fill="#a9a9a9" shape-rendering="crispEdges"/>
<rect x="593" y="10" width="3" height="1" fill="#a9a9a9" shape-rendering="crispEdges"/>
<rect x="593" y="12" width="3" height="1" fill="#a9a9a9" shape-rendering="crispEdges"/>
<rect x="593" y="14" width="3" height="1" fill="#a9a9a9" shape-rendering="crispEdges"/>
<rect x="593" y="16" width="3" height="1" fill="#a9a9a9" shape-rendering="crispEdges"/>
<rect x="593" y="18" width="3" height="1" fill="#a9a9a9" shape-rendering="crispEdges"/>
<rect x="593" y="20" width="3" height="1" fill="#a9a9a9" shape-rendering="crispEdges"/>
<rect x="599" y="0" width="25" height="22" fill="url(#chk)" shape-rendering="crispEdges"/>
<rect x="599" y="0" width="25" height="1" fill="#a0a0a0" shape-rendering="crispEdges"/>
<rect x="599" y="0" width="1" height="22" fill="#a0a0a0" shape-rendering="crispEdges"/>
<rect x="624" y="0" width="1" height="23" fill="#fff" shape-rendering="crispEdges"/>
<rect x="599" y="22" width="25" height="1" fill="#fff" shape-rendering="crispEdges"/>
<path d="M607,5 V17.500 L610,14.800 L612.300,19.500 L614.300,18.500 L612,14 L615.500,13.500 Z" fill="#444"/>
<path d="M639.500,5 V11 M639.500,14 V20 M632,12.500 H638 M641,12.500 H647" stroke="#444" stroke-width="1.300" fill="none"/><rect x="639" y="12" width="1" height="1" fill="#444"/>
<rect x="656" y="1" width="1" height="21" fill="#a0a0a0" shape-rendering="crispEdges"/>
<rect x="672.700" y="6" width="1.400" height="13" fill="#444"/>
<rect x="696" y="11.800" width="12" height="1.400" fill="#444"/>
<path d="M724,19 L736,7" stroke="#444" stroke-width="1.300"/>
<path d="M750,14 L758,6 M751.500,18 L763,7.500 M755,18.500 L763.500,10.500 M753,11.500 L752,18 M756.500,9 L755.500,16.500 M760,7 L759,13.500 M761.500,4 L761,11" stroke="#444" stroke-width="1.100" fill="none"/><text x="760.500" y="20.800" font-family="Liberation Sans, sans-serif" font-weight="700" font-size="7" fill="#333">E</text>
<line x1="779" y1="5.5" x2="792" y2="5.5" stroke="#444" stroke-width="1" stroke-dasharray="1 1" shape-rendering="crispEdges"/>
<line x1="779" y1="8.5" x2="792" y2="8.5" stroke="#444" stroke-width="1" stroke-dasharray="1 1" shape-rendering="crispEdges"/>
<line x1="779" y1="12.5" x2="792" y2="12.5" stroke="#444" stroke-width="1" stroke-dasharray="1 1" shape-rendering="crispEdges"/>
<line x1="779" y1="16.5" x2="788" y2="16.5" stroke="#444" stroke-width="1" stroke-dasharray="1 1" shape-rendering="crispEdges"/>
<text x="788.500" y="20.800" font-family="Liberation Sans, sans-serif" font-weight="700" font-size="7" fill="#333">F</text>
<text x="809" y="17.200" font-family="Liberation Sans, sans-serif" font-weight="700" font-size="13" fill="#555">A</text>
<rect x="836.500" y="6.500" width="11" height="12" fill="none" stroke="#444" stroke-width="1" stroke-dasharray="1 1" shape-rendering="crispEdges"/><rect x="835" y="5" width="3" height="2" fill="#444"/><text x="838" y="17" font-family="Liberation Sans, sans-serif" font-weight="700" font-size="11.500" fill="#555">T</text>
<polygon points="866.500,6 870,9.500 866.500,11 863,9.500" fill="#444"/><polygon points="873.500,19 877,15.500 873.500,14 870,15.500" fill="#444"/><path d="M866,13.500 L868,15.500 L872.500,10" stroke="#444" stroke-width="1.400" fill="none"/>
<polygon points="884,11 890,11 887,14" fill="#000"/>
<rect x="895" y="0" width="1" height="24" fill="#a0a0a0" shape-rendering="crispEdges"/>
<rect x="896" y="0" width="1" height="24" fill="#fff" shape-rendering="crispEdges"/>
<rect x="899" y="2" width="3" height="1" fill="#a9a9a9" shape-rendering="crispEdges"/>
<rect x="899" y="4" width="3" height="1" fill="#a9a9a9" shape-rendering="crispEdges"/>
<rect x="899" y="6" width="3" height="1" fill="#a9a9a9" shape-rendering="crispEdges"/>
<rect x="899" y="8" width="3" height="1" fill="#a9a9a9" shape-rendering="crispEdges"/>
<rect x="899" y="10" width="3" height="1" fill="#a9a9a9" shape-rendering="crispEdges"/>
<rect x="899" y="12" width="3" height="1" fill="#a9a9a9" shape-rendering="crispEdges"/>
<rect x="899" y="14" width="3" height="1" fill="#a9a9a9" shape-rendering="crispEdges"/>
<rect x="899" y="16" width="3" height="1" fill="#a9a9a9" shape-rendering="crispEdges"/>
<rect x="899" y="18" width="3" height="1" fill="#a9a9a9" shape-rendering="crispEdges"/>
<rect x="899" y="20" width="3" height="1" fill="#a9a9a9" shape-rendering="crispEdges"/>
<text x="910" y="16" font-family="Liberation Sans, sans-serif" font-size="10" fill="#505050">M1</text>
<text x="938" y="16" font-family="Liberation Sans, sans-serif" font-size="10" fill="#505050">M5</text>
<text x="964" y="16" font-family="Liberation Sans, sans-serif" font-size="10" fill="#505050">M15</text>
<text x="992" y="16" font-family="Liberation Sans, sans-serif" font-size="10" fill="#505050">M30</text>
<text x="1023" y="16" font-family="Liberation Sans, sans-serif" font-size="10" fill="#505050">H1</text>
<text x="1079" y="16" font-family="Liberation Sans, sans-serif" font-size="10" fill="#505050">D1</text>
<text x="1106.5" y="16" font-family="Liberation Sans, sans-serif" font-size="10" fill="#505050">W1</text>
<text x="1133.5" y="16" font-family="Liberation Sans, sans-serif" font-size="10" fill="#505050">MN</text>
<rect x="1045" y="0" width="25" height="22" fill="url(#chk)" shape-rendering="crispEdges"/>
<rect x="1045" y="0" width="25" height="1" fill="#a0a0a0" shape-rendering="crispEdges"/>
<rect x="1045" y="0" width="1" height="22" fill="#a0a0a0" shape-rendering="crispEdges"/>
<rect x="1070" y="0" width="1" height="23" fill="#fff" shape-rendering="crispEdges"/>
<rect x="1045" y="22" width="25" height="1" fill="#fff" shape-rendering="crispEdges"/>
<text x="1050.500" y="16" font-family="Liberation Sans, sans-serif" font-size="10" fill="#505050">H4</text>
<rect x="1156" y="0" width="1" height="24" fill="#a0a0a0" shape-rendering="crispEdges"/>
<path d="M1623.200,12.800 L1619.200,16.800" stroke="#2a5ad0" stroke-width="2.400" stroke-linecap="round"/><circle cx="1626.400" cy="9.600" r="3.900" fill="#f2f4f8" stroke="#2a5ad0" stroke-width="1.300"/>
<defs><linearGradient id="bub" x1="0" y1="0" x2="0.3" y2="1"><stop offset="0" stop-color="#ffffff"/><stop offset="1" stop-color="#cfd0da"/></linearGradient></defs>
<path d="M1660.500,12.500 L1662.800,15.600 L1663.200,12.200 Z" fill="#8a8a8a"/><ellipse cx="1659.300" cy="8.700" rx="6.300" ry="4.300" fill="url(#bub)" stroke="#a0a0a0" stroke-width="0.900"/>
<path d="M1648,16.500 L1647.400,18.900 L1650.500,17 Z" fill="#8a8a8a"/><ellipse cx="1650" cy="13.400" rx="5" ry="3.900" fill="url(#bub)" stroke="#a0a0a0" stroke-width="0.900"/>
</svg></div><div id="tbl1"></div><div id="tbl2"></div>
<div id="oct">
<div class="pw"></div>
<div class="tab" style="left:0;width:51px"><span style="left:11px;letter-spacing:-0.75px">SELL</span><i style="left:3px"></i></div>
<div class="tab" style="left:166px;width:52px"><span style="left:13px">BUY</span><i style="left:4px"></i></div>
<div class="big" style="left:0;width:108px"><b style="left:15px">21658</b><em style="left:53px">.5</em></div>
<div class="big" style="left:110px;width:108px"><b style="left:15px">21681</b><em style="left:54px">.5</em></div>
<div class="spin"><div class="sb" style="left:0;width:21px"><s class="dn"></s></div><div class="inp">1.00</div><div class="sb" style="left:89px;width:21px"><s class="up"></s></div></div>
</div>

</body></html>
